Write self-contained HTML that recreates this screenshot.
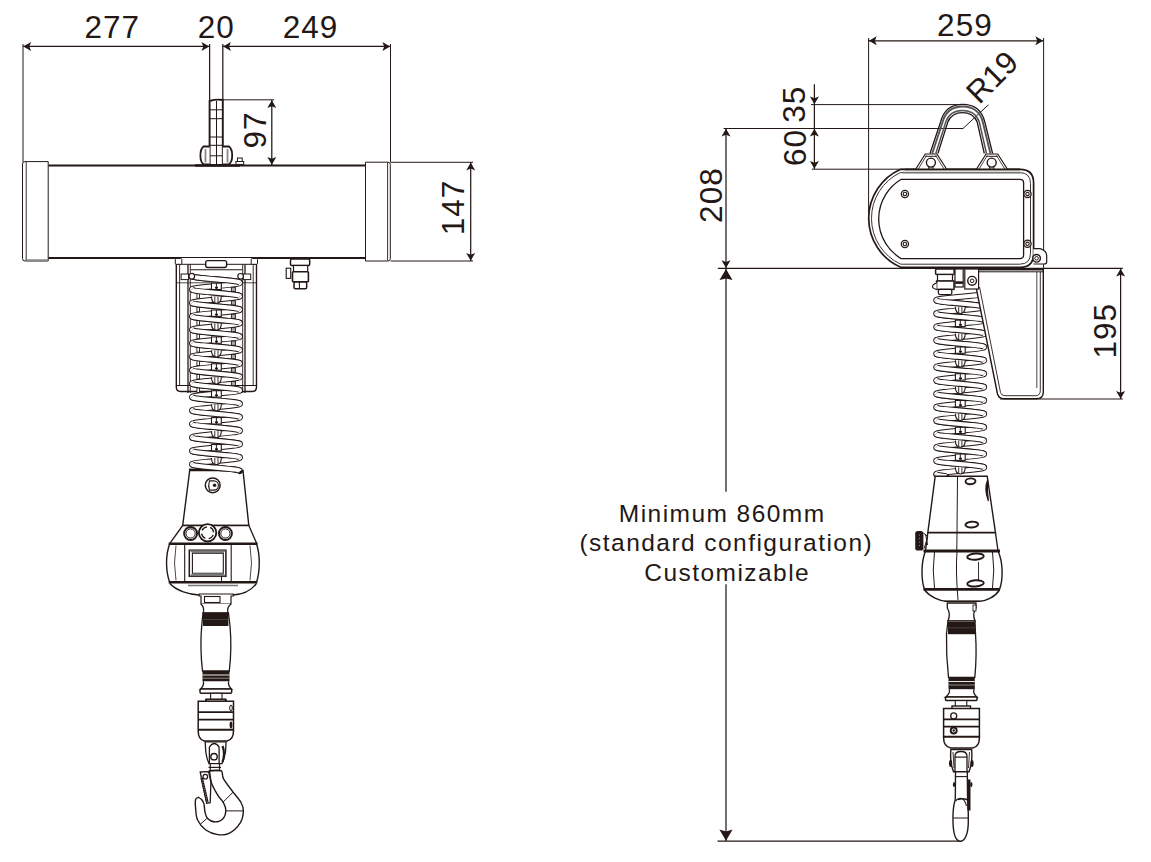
<!DOCTYPE html>
<html><head><meta charset="utf-8"><style>
html,body{margin:0;padding:0;background:#fff;width:1151px;height:862px;overflow:hidden}
svg{display:block}
text{font-family:"Liberation Sans",sans-serif;fill:#231815}
</style></head><body>
<svg width="1151" height="862" viewBox="0 0 1151 862">
<line x1="23.00" y1="46.40" x2="209.60" y2="46.40" stroke="#231815" stroke-width="1.15" />
<line x1="222.80" y1="46.40" x2="390.50" y2="46.40" stroke="#231815" stroke-width="1.15" />
<path d="M23.30 46.40 L31.10 41.90 L29.30 46.40 L31.10 50.90 Z" fill="#231815"/>
<path d="M209.30 46.40 L201.50 41.90 L203.30 46.40 L201.50 50.90 Z" fill="#231815"/>
<path d="M223.10 46.40 L230.90 41.90 L229.10 46.40 L230.90 50.90 Z" fill="#231815"/>
<path d="M390.20 46.40 L382.40 41.90 L384.20 46.40 L382.40 50.90 Z" fill="#231815"/>
<text x="112.30" y="38.30" font-size="31.50" text-anchor="middle" letter-spacing="1">277</text>
<text x="216.20" y="38.30" font-size="31.50" text-anchor="middle" letter-spacing="1">20</text>
<text x="310.50" y="38.30" font-size="31.50" text-anchor="middle" letter-spacing="1">249</text>
<line x1="23.00" y1="44.00" x2="23.00" y2="162.00" stroke="#231815" stroke-width="1.00" />
<line x1="390.50" y1="44.00" x2="390.50" y2="162.00" stroke="#231815" stroke-width="1.00" />
<line x1="209.60" y1="44.00" x2="209.60" y2="100.00" stroke="#231815" stroke-width="1.25" />
<line x1="222.80" y1="44.00" x2="222.80" y2="100.00" stroke="#231815" stroke-width="1.25" />
<line x1="222.80" y1="99.80" x2="274.00" y2="99.80" stroke="#231815" stroke-width="1.00" />
<line x1="271.80" y1="100.00" x2="271.80" y2="165.00" stroke="#231815" stroke-width="1.25" />
<path d="M271.80 100.20 L267.30 108.00 L271.80 106.20 L276.30 108.00 Z" fill="#231815"/>
<path d="M271.80 164.80 L267.30 157.00 L271.80 158.80 L276.30 157.00 Z" fill="#231815"/>
<text x="266.00" y="130.00" font-size="31.50" text-anchor="middle" letter-spacing="1" transform="rotate(-90 266.00 130.00)">97</text>
<line x1="390.50" y1="162.30" x2="473.00" y2="162.30" stroke="#231815" stroke-width="1.00" />
<line x1="390.50" y1="261.00" x2="473.00" y2="261.00" stroke="#231815" stroke-width="1.00" />
<line x1="470.70" y1="162.50" x2="470.70" y2="261.00" stroke="#231815" stroke-width="1.25" />
<path d="M470.70 162.60 L466.20 170.40 L470.70 168.60 L475.20 170.40 Z" fill="#231815"/>
<path d="M470.70 260.70 L466.20 252.90 L470.70 254.70 L475.20 252.90 Z" fill="#231815"/>
<text x="464.20" y="207.50" font-size="31.50" text-anchor="middle" letter-spacing="1" transform="rotate(-90 464.20 207.50)">147</text>
<line x1="868.60" y1="40.80" x2="1043.50" y2="40.80" stroke="#231815" stroke-width="1.15" />
<path d="M868.90 40.80 L876.70 36.30 L874.90 40.80 L876.70 45.30 Z" fill="#231815"/>
<path d="M1043.20 40.80 L1035.40 36.30 L1037.20 40.80 L1035.40 45.30 Z" fill="#231815"/>
<text x="964.90" y="36.30" font-size="31.50" text-anchor="middle" letter-spacing="1">259</text>
<line x1="868.60" y1="38.00" x2="868.60" y2="216.00" stroke="#231815" stroke-width="1.00" />
<line x1="1043.60" y1="38.00" x2="1043.60" y2="268.00" stroke="#231815" stroke-width="1.00" />
<line x1="814.40" y1="84.30" x2="814.40" y2="169.00" stroke="#231815" stroke-width="1.25" />
<path d="M814.40 104.30 L809.90 96.50 L814.40 98.30 L818.90 96.50 Z" fill="#231815"/>
<path d="M814.40 128.80 L809.90 136.60 L814.40 134.80 L818.90 136.60 Z" fill="#231815"/>
<path d="M814.40 168.70 L809.90 160.90 L814.40 162.70 L818.90 160.90 Z" fill="#231815"/>
<line x1="811.00" y1="104.60" x2="962.00" y2="104.60" stroke="#231815" stroke-width="1.00" />
<line x1="723.60" y1="128.50" x2="963.00" y2="128.50" stroke="#231815" stroke-width="1.00" />
<line x1="811.80" y1="169.20" x2="905.00" y2="169.20" stroke="#231815" stroke-width="1.00" />
<text x="805.20" y="104.20" font-size="31.50" text-anchor="middle" letter-spacing="1" transform="rotate(-90 805.20 104.20)">35</text>
<text x="806.00" y="147.50" font-size="31.50" text-anchor="middle" letter-spacing="1" transform="rotate(-90 806.00 147.50)">60</text>
<line x1="726.00" y1="128.50" x2="726.00" y2="268.30" stroke="#231815" stroke-width="1.25" />
<path d="M726.00 128.80 L721.50 136.60 L726.00 134.80 L730.50 136.60 Z" fill="#231815"/>
<path d="M726.00 268.00 L721.50 260.20 L726.00 262.00 L730.50 260.20 Z" fill="#231815"/>
<text x="722.50" y="195.10" font-size="31.50" text-anchor="middle" letter-spacing="1" transform="rotate(-90 722.50 195.10)">208</text>
<line x1="717.80" y1="268.40" x2="1122.80" y2="268.40" stroke="#231815" stroke-width="1.25" />
<line x1="726.00" y1="268.60" x2="726.00" y2="491.70" stroke="#231815" stroke-width="1.25" />
<line x1="726.00" y1="584.20" x2="726.00" y2="841.00" stroke="#231815" stroke-width="1.25" />
<path d="M726.00 268.90 L719.50 280.10 L726.00 278.50 L732.50 280.10 Z" fill="#231815"/>
<path d="M726.00 840.80 L719.40 829.50 L726.00 831.50 L732.60 829.50 Z" fill="#231815"/>
<line x1="717.50" y1="841.00" x2="962.00" y2="841.00" stroke="#231815" stroke-width="1.25" />
<line x1="1120.60" y1="268.60" x2="1120.60" y2="399.00" stroke="#231815" stroke-width="1.25" />
<path d="M1120.60 268.80 L1116.10 276.60 L1120.60 274.80 L1125.10 276.60 Z" fill="#231815"/>
<path d="M1120.60 398.70 L1116.10 390.90 L1120.60 392.70 L1125.10 390.90 Z" fill="#231815"/>
<line x1="1000.00" y1="399.00" x2="1122.80" y2="399.00" stroke="#231815" stroke-width="1.00" />
<text x="1115.70" y="330.70" font-size="31.50" text-anchor="middle" letter-spacing="1" transform="rotate(-90 1115.70 330.70)">195</text>
<line x1="988.40" y1="104.80" x2="962.80" y2="128.70" stroke="#231815" stroke-width="1.00" />
<text x="979.20" y="105.30" font-size="31.50" text-anchor="start" letter-spacing="0" transform="rotate(-45 979.20 105.30)">R19</text>
<text x="722.20" y="521.50" font-size="24.50" text-anchor="middle" letter-spacing="1.45">Minimum 860mm</text>
<text x="726.30" y="551.30" font-size="24.50" text-anchor="middle" letter-spacing="1.45">(standard configuration)</text>
<text x="727.20" y="580.60" font-size="24.50" text-anchor="middle" letter-spacing="1.45">Customizable</text>
<path d="M48.2 165.5 L365.5 165.5" fill="none" stroke="#231815" stroke-width="2.20" />
<path d="M48.2 258 L365.5 258" fill="none" stroke="#231815" stroke-width="2.20" />
<path d="M25 161.6 L48.2 161.6 L48.2 261 L25 261 Q22.5 261 22.5 258.5 L22.5 164 Q22.5 161.6 25 161.6 Z" fill="#fff" stroke="#231815" stroke-width="1.00" />
<line x1="26.20" y1="162.00" x2="26.20" y2="260.50" stroke="#231815" stroke-width="0.90" />
<line x1="48.20" y1="260.00" x2="25.00" y2="260.00" stroke="#888" stroke-width="1.50" />
<path d="M365.5 162.2 L388 162.2 Q390.3 162.2 390.3 164.5 L390.3 258.7 Q390.3 261 388 261 L365.5 261 Z" fill="#fff" stroke="#231815" stroke-width="1.00" />
<line x1="387.60" y1="162.50" x2="387.60" y2="260.50" stroke="#231815" stroke-width="0.90" />
<path d="M209.6 101 Q216 99 222.8 100 L222.8 165 L209.6 165 Z" fill="#fff" stroke="#231815" stroke-width="1.90" />
<line x1="216.50" y1="101.00" x2="216.50" y2="165.00" stroke="#231815" stroke-width="1.00" />
<line x1="209.60" y1="109.80" x2="222.80" y2="109.80" stroke="#231815" stroke-width="1.00" />
<line x1="209.60" y1="118.70" x2="222.80" y2="118.70" stroke="#231815" stroke-width="1.00" />
<line x1="209.60" y1="137.00" x2="222.80" y2="137.00" stroke="#231815" stroke-width="1.00" />
<line x1="209.60" y1="145.30" x2="222.80" y2="145.30" stroke="#231815" stroke-width="1.00" />
<line x1="209.60" y1="155.80" x2="222.80" y2="155.80" stroke="#231815" stroke-width="1.00" />
<path d="M209.6 146.5 L203.5 146.5 Q200.4 149 200.4 155.5 Q200.4 162 203.5 164.3 L209.6 164.3" fill="#fff" stroke="#231815" stroke-width="1.80" />
<path d="M222.8 146.5 L229 146.5 Q232.2 149 232.2 155.5 Q232.2 162 229 164.3 L222.8 164.3" fill="#fff" stroke="#231815" stroke-width="1.80" />
<line x1="205.50" y1="149.00" x2="205.50" y2="162.50" stroke="#888" stroke-width="1.80" />
<line x1="227.50" y1="149.00" x2="227.50" y2="162.50" stroke="#888" stroke-width="1.80" />
<line x1="195.00" y1="165.50" x2="240.00" y2="165.50" stroke="#231815" stroke-width="2.40" />
<rect x="237.50" y="158.00" width="4.70" height="3.50" rx="0.00" fill="#fff" stroke="#231815" stroke-width="1.00"/>
<rect x="235.90" y="161.50" width="7.80" height="2.90" rx="0.00" fill="#fff" stroke="#231815" stroke-width="1.00"/>
<rect x="290.50" y="259.00" width="19.20" height="6.50" rx="1.20" fill="#fff" stroke="#231815" stroke-width="1.50"/>
<rect x="293.50" y="265.50" width="14.20" height="6.20" rx="0.00" fill="#fff" stroke="#231815" stroke-width="1.20"/>
<rect x="292.50" y="271.70" width="15.90" height="10.00" rx="0.80" fill="#fff" stroke="#231815" stroke-width="1.60"/>
<rect x="286.20" y="268.20" width="4.50" height="10.20" rx="0.00" fill="#fff" stroke="#231815" stroke-width="1.10"/>
<rect x="294.00" y="282.00" width="12.70" height="6.70" rx="1.50" fill="#fff" stroke="#231815" stroke-width="1.50"/>
<line x1="299.40" y1="282.00" x2="299.40" y2="288.70" stroke="#231815" stroke-width="1.10" />
<path d="M176.3 258 L176.3 387 Q176.3 391.5 180.5 391.5 L252.3 391.5 Q256.5 391.5 256.5 387 L256.5 258" fill="#fff" stroke="#231815" stroke-width="1.40" />
<line x1="179.60" y1="264.00" x2="179.60" y2="385.50" stroke="#231815" stroke-width="0.90" />
<line x1="253.20" y1="264.00" x2="253.20" y2="385.50" stroke="#231815" stroke-width="0.90" />
<line x1="176.30" y1="385.50" x2="256.50" y2="385.50" stroke="#231815" stroke-width="1.00" />
<line x1="176.30" y1="264.30" x2="256.50" y2="264.30" stroke="#231815" stroke-width="1.00" />
<line x1="176.30" y1="282.80" x2="256.50" y2="282.80" stroke="#231815" stroke-width="0.80" />
<rect x="175.30" y="258.50" width="6.50" height="5.80" rx="1.00" fill="#fff" stroke="#231815" stroke-width="1.00"/>
<rect x="251.20" y="258.50" width="6.30" height="5.80" rx="1.00" fill="#fff" stroke="#231815" stroke-width="1.00"/>
<line x1="188.00" y1="264.30" x2="188.00" y2="393.00" stroke="#231815" stroke-width="1.30" />
<line x1="190.30" y1="264.30" x2="190.30" y2="393.00" stroke="#231815" stroke-width="0.90" />
<line x1="242.70" y1="264.30" x2="242.70" y2="393.00" stroke="#231815" stroke-width="0.90" />
<line x1="245.00" y1="264.30" x2="245.00" y2="393.00" stroke="#231815" stroke-width="1.30" />
<rect x="205.70" y="260.60" width="20.90" height="6.90" rx="2.00" fill="#fff" stroke="#231815" stroke-width="1.40"/>
<line x1="190.40" y1="269.80" x2="242.40" y2="269.80" stroke="#231815" stroke-width="1.10" />
<rect x="181.10" y="274.00" width="7.50" height="5.60" rx="0.00" fill="#fff" stroke="#231815" stroke-width="1.00"/>
<rect x="243.30" y="274.00" width="7.40" height="5.60" rx="0.00" fill="#fff" stroke="#231815" stroke-width="1.00"/>
<path d="M189.7 470.5 L243 470.5 L248.8 525.5 L182.7 525.5 Z" fill="#fff" stroke="#231815" stroke-width="1.40" />
<line x1="189.00" y1="469.30" x2="203.50" y2="469.80" stroke="#231815" stroke-width="1.50" />
<path d="M192.00 276.00 L192.15 276.24 L192.60 276.48 L193.34 276.72 L194.37 276.96 L195.67 277.20 L197.22 277.44 L199.01 277.68 L201.02 277.92 L203.21 278.16 L205.56 278.40 L208.04 278.64 L210.62 278.88 L213.27 279.12 L215.95 279.36 L218.64 279.60 L221.29 279.84 L223.87 280.08 L226.36 280.32 L228.72 280.56 L230.91 280.80 L232.92 281.04 L234.72 281.28 L236.28 281.52 L237.59 281.76 L238.63 282.00 L239.38 282.24 L239.84 282.48 L240.00 282.72 L239.86 282.96 L239.42 283.20 L238.69 283.44 L237.67 283.68 L236.38 283.92 L234.83 284.16 L233.05 284.40 L231.06 284.64 L228.87 284.88 L226.53 285.12 L224.05 285.36 L221.47 285.60 L218.82 285.84 L216.14 286.08 L213.45 286.31 L210.80 286.55 L208.21 286.79 L205.72 287.03 L203.36 287.27 L201.16 287.51 L199.14 287.75 L197.34 287.99 L195.77 288.23 L194.45 288.47 L193.41 288.71 L192.64 288.95 L192.17 289.19 L192.00 289.43 L192.13 289.67 L192.56 289.91 L193.28 290.15 L194.29 290.39 L195.57 290.63 L197.11 290.87 L198.88 291.11 L200.87 291.35 L203.05 291.59 L205.39 291.83 L207.86 292.07 L210.44 292.31 L213.09 292.55 L215.77 292.79 L218.45 293.03 L221.11 293.27 L223.70 293.51 L226.19 293.75 L228.56 293.99 L230.77 294.23 L232.79 294.47 L234.60 294.71 L236.18 294.95 L237.51 295.19 L238.56 295.43 L239.34 295.67 L239.82 295.91 L240.00 296.15 L239.88 296.39 L239.46 296.63 L238.75 296.87 L237.75 297.11 L236.48 297.35 L234.95 297.59 L233.18 297.83 L231.20 298.07 L229.03 298.31 L226.69 298.55 L224.22 298.79 L221.65 299.03 L219.01 299.27 L216.32 299.51 L213.64 299.75 L210.98 299.99 L208.39 300.23 L205.89 300.47 L203.52 300.71 L201.31 300.95 L199.28 301.19 L197.46 301.43 L195.87 301.67 L194.53 301.91 L193.47 302.15 L192.69 302.39 L192.19 302.63 L192.00 302.87 L192.11 303.11 L192.52 303.35 L193.22 303.59 L194.21 303.83 L195.48 304.07 L196.99 304.31 L198.75 304.55 L200.73 304.79 L202.89 305.03 L205.22 305.27 L207.69 305.51 L210.26 305.75 L212.90 305.99 L215.58 306.23 L218.27 306.47 L220.93 306.71 L223.52 306.94 L226.02 307.18 L228.40 307.42 L230.62 307.66 L232.66 307.90 L234.48 308.14 L236.08 308.38 L237.42 308.62 L238.50 308.86 L239.29 309.10 L239.79 309.34 L240.00 309.58 L239.90 309.82 L239.50 310.06 L238.81 310.30 L237.83 310.54 L236.57 310.78 L235.06 311.02 L233.31 311.26 L231.34 311.50 L229.18 311.74 L226.86 311.98 L224.40 312.22 L221.83 312.46 L219.19 312.70 L216.51 312.94 L213.82 313.18 L211.16 313.42 L208.57 313.66 L206.06 313.90 L203.68 314.14 L201.45 314.38 L199.41 314.62 L197.58 314.86 L195.97 315.10 L194.62 315.34 L193.53 315.58 L192.73 315.82 L192.22 316.06 L192.01 316.30 L192.09 316.54 L192.48 316.78 L193.17 317.02 L194.14 317.26 L195.38 317.50 L196.88 317.74 L198.62 317.98 L200.58 318.22 L202.74 318.46 L205.06 318.70 L207.52 318.94 L210.08 319.18 L212.72 319.42 L215.40 319.66 L218.08 319.90 L220.74 320.14 L223.35 320.38 L225.85 320.62 L228.24 320.86 L230.47 321.10 L232.52 321.34 L234.37 321.58 L235.98 321.82 L237.34 322.06 L238.43 322.30 L239.25 322.54 L239.77 322.78 L239.99 323.02 L239.91 323.26 L239.54 323.50 L238.86 323.74 L237.90 323.98 L236.67 324.22 L235.17 324.46 L233.44 324.70 L231.49 324.94 L229.34 325.18 L227.02 325.42 L224.57 325.66 L222.01 325.90 L219.37 326.14 L216.70 326.38 L214.01 326.62 L211.35 326.86 L208.74 327.10 L206.23 327.33 L203.84 327.57 L201.60 327.81 L199.55 328.05 L197.69 328.29 L196.07 328.53 L194.70 328.77 L193.60 329.01 L192.78 329.25 L192.24 329.49 L192.01 329.73 L192.08 329.97 L192.45 330.21 L193.11 330.45 L194.06 330.69 L195.29 330.93 L196.77 331.17 L198.50 331.41 L200.44 331.65 L202.58 331.89 L204.89 332.13 L207.34 332.37 L209.90 332.61 L212.53 332.85 L215.21 333.09 L217.90 333.33 L220.56 333.57 L223.17 333.81 L225.69 334.05 L228.08 334.29 L230.32 334.53 L232.39 334.77 L234.25 335.01 L235.87 335.25 L237.25 335.49 L238.37 335.73 L239.20 335.97 L239.74 336.21 L239.99 336.45 L239.93 336.69 L239.57 336.93 L238.92 337.17 L237.98 337.41 L236.76 337.65 L235.28 337.89 L233.57 338.13 L231.63 338.37 L229.49 338.61 L227.19 338.85 L224.74 339.09 L222.19 339.33 L219.56 339.57 L216.88 339.81 L214.19 340.05 L211.53 340.29 L208.92 340.53 L206.40 340.77 L204.00 341.01 L201.75 341.25 L199.68 341.49 L197.82 341.73 L196.18 341.97 L194.79 342.21 L193.67 342.45 L192.82 342.69 L192.27 342.93 L192.02 343.17 L192.06 343.41 L192.41 343.65 L193.05 343.89 L193.99 344.13 L195.19 344.37 L196.66 344.61 L198.37 344.85 L200.30 345.09 L202.43 345.33 L204.73 345.57 L207.17 345.81 L209.72 346.05 L212.35 346.29 L215.03 346.53 L217.71 346.77 L220.38 347.01 L222.99 347.25 L225.52 347.49 L227.92 347.73 L230.17 347.96 L232.25 348.20 L234.12 348.44 L235.77 348.68 L237.17 348.92 L238.30 349.16 L239.15 349.40 L239.71 349.64 L239.98 349.88 L239.94 350.12 L239.61 350.36 L238.97 350.60 L238.05 350.84 L236.85 351.08 L235.39 351.32 L233.69 351.56 L231.77 351.80 L229.65 352.04 L227.35 352.28 L224.92 352.52 L222.37 352.76 L219.74 353.00 L217.07 353.24 L214.38 353.48 L211.71 353.72 L209.10 353.96 L206.57 354.20 L204.16 354.44 L201.90 354.68 L199.82 354.92 L197.94 355.16 L196.28 355.40 L194.88 355.64 L193.73 355.88 L192.87 356.12 L192.30 356.36 L192.03 356.60 L192.05 356.84 L192.38 357.08 L193.00 357.32 L193.91 357.56 L195.10 357.80 L196.55 358.04 L198.25 358.28 L200.16 358.52 L202.28 358.76 L204.57 359.00 L207.00 359.24 L209.54 359.48 L212.17 359.72 L214.84 359.96 L217.53 360.20 L220.20 360.44 L222.81 360.68 L225.34 360.92 L227.76 361.16 L230.02 361.40 L232.11 361.64 L234.00 361.88 L235.66 362.12 L237.08 362.36 L238.23 362.60 L239.10 362.84 L239.68 363.08 L239.97 363.32 L239.95 363.56 L239.64 363.80 L239.03 364.04 L238.12 364.28 L236.95 364.52 L235.50 364.76 L233.82 365.00 L231.91 365.24 L229.80 365.48 L227.51 365.72 L225.09 365.96 L222.55 366.20 L219.92 366.44 L217.25 366.68 L214.56 366.92 L211.89 367.16 L209.27 367.40 L206.74 367.64 L204.32 367.88 L202.05 368.12 L199.95 368.36 L198.06 368.59 L196.39 368.83 L194.97 369.07 L193.80 369.31 L192.92 369.55 L192.33 369.79 L192.04 370.03 L192.04 370.27 L192.35 370.51 L192.95 370.75 L193.84 370.99 L195.01 371.23 L196.44 371.47 L198.12 371.71 L200.02 371.95 L202.13 372.19 L204.40 372.43 L206.83 372.67 L209.36 372.91 L211.98 373.15 L214.66 373.39 L217.34 373.63 L220.02 373.87 L222.64 374.11 L225.17 374.35 L227.60 374.59 L229.87 374.83 L231.98 375.07 L233.88 375.31 L235.56 375.55 L236.99 375.79 L238.16 376.03 L239.05 376.27 L239.65 376.51 L239.96 376.75 L239.96 376.99 L239.67 377.23 L239.08 377.47 L238.20 377.71 L237.03 377.95 L235.61 378.19 L233.94 378.43 L232.05 378.67 L229.95 378.91 L227.68 379.15 L225.26 379.39 L222.73 379.63 L220.11 379.87 L217.44 380.11 L214.75 380.35 L212.08 380.59 L209.45 380.83 L206.91 381.07 L204.49 381.31 L202.20 381.55 L200.09 381.79 L198.18 382.03 L196.50 382.27 L195.05 382.51 L193.88 382.75 L192.97 382.99 L192.36 383.23 L192.05 383.47 L192.03 383.71 L192.32 383.95 L192.90 384.19 L193.77 384.43 L194.92 384.67 L196.34 384.91 L198.00 385.15 L199.89 385.39 L201.98 385.63 L204.24 385.87 L206.66 386.11 L209.19 386.35 L211.80 386.59 L214.47 386.83 L217.16 387.07 L219.83 387.31 L222.46 387.55 L225.00 387.79 L227.43 388.03 L229.72 388.27 L231.84 388.51 L233.75 388.75 L235.45 388.98 L236.90 389.22 L238.09 389.46 L239.00 389.70 L239.62 389.94 L239.95 390.18 L239.97 390.42 L239.70 390.66 L239.13 390.90 L238.27 391.14 L237.12 391.38 L235.72 391.62 L234.06 391.86 L232.18 392.10 L230.10 392.34 L227.84 392.58 L225.43 392.82 L222.90 393.06 L220.29 393.30 L217.62 393.54 L214.93 393.78 L212.26 394.02 L209.63 394.26 L207.08 394.50 L204.65 394.74 L202.35 394.98 L200.23 395.22 L198.31 395.46 L196.61 395.70 L195.15 395.94 L193.95 396.18 L193.03 396.42 L192.39 396.66 L192.06 396.90 L192.02 397.14 L192.29 397.38 L192.85 397.62 L193.70 397.86 L194.83 398.10 L196.23 398.34 L197.88 398.58 L199.75 398.82 L201.83 399.06 L204.08 399.30 L206.48 399.54 L209.01 399.78 L211.62 400.02 L214.29 400.26 L216.97 400.50 L219.65 400.74 L222.28 400.98 L224.83 401.22 L227.27 401.46 L229.57 401.70 L231.70 401.94 L233.63 402.18 L235.34 402.42 L236.81 402.66 L238.01 402.90 L238.95 403.14 L239.59 403.38 L239.94 403.62 L239.98 403.86 L239.73 404.10 L239.18 404.34 L238.33 404.58 L237.21 404.82 L235.82 405.06 L234.18 405.30 L232.32 405.54 L230.25 405.78 L228.00 406.02 L225.60 406.26 L223.08 406.50 L220.47 406.74 L217.81 406.98 L215.12 407.22 L212.44 407.46 L209.81 407.70 L207.26 407.94 L204.81 408.18 L202.51 408.42 L200.37 408.66 L198.43 408.90 L196.72 409.14 L195.24 409.38 L194.02 409.61 L193.08 409.85 L192.43 410.09 L192.07 410.33 L192.01 410.57 L192.26 410.81 L192.80 411.05 L193.63 411.29 L194.75 411.53 L196.13 411.77 L197.75 412.01 L199.61 412.25 L201.68 412.49 L203.92 412.73 L206.31 412.97 L208.83 413.21 L211.44 413.45 L214.10 413.69 L216.79 413.93 L219.47 414.17 L222.10 414.41 L224.66 414.65 L227.11 414.89 L229.42 415.13 L231.56 415.37 L233.50 415.61 L235.23 415.85 L236.71 416.09 L237.94 416.33 L238.89 416.57 L239.55 416.81 L239.92 417.05 L239.99 417.29 L239.76 417.53 L239.22 417.77 L238.40 418.01 L237.30 418.25 L235.93 418.49 L234.31 418.73 L232.45 418.97 L230.40 419.21 L228.16 419.45 L225.77 419.69 L223.26 419.93 L220.65 420.17 L217.99 420.41 L215.30 420.65 L212.63 420.89 L209.99 421.13 L207.43 421.37 L204.98 421.61 L202.66 421.85 L200.51 422.09 L198.56 422.33 L196.83 422.57 L195.33 422.81 L194.10 423.05 L193.14 423.29 L192.46 423.53 L192.09 423.77 L192.01 424.01 L192.23 424.25 L192.75 424.49 L193.57 424.73 L194.66 424.97 L196.02 425.21 L197.63 425.45 L199.48 425.69 L201.53 425.93 L203.76 426.17 L206.15 426.41 L208.65 426.65 L211.26 426.89 L213.92 427.13 L216.60 427.37 L219.28 427.61 L221.92 427.85 L224.48 428.09 L226.94 428.33 L229.26 428.57 L231.42 428.81 L233.38 429.05 L235.12 429.29 L236.62 429.53 L237.86 429.77 L238.83 430.00 L239.52 430.24 L239.91 430.48 L239.99 430.72 L239.78 430.96 L239.27 431.20 L238.47 431.44 L237.38 431.68 L236.03 431.92 L234.42 432.16 L232.59 432.40 L230.55 432.64 L228.32 432.88 L225.94 433.12 L223.43 433.36 L220.84 433.60 L218.18 433.84 L215.49 434.08 L212.81 434.32 L210.17 434.56 L207.60 434.80 L205.14 435.04 L202.82 435.28 L200.66 435.52 L198.69 435.76 L196.94 436.00 L195.43 436.24 L194.17 436.48 L193.19 436.72 L192.50 436.96 L192.10 437.20 L192.00 437.44 L192.21 437.68 L192.71 437.92 L193.50 438.16 L194.58 438.40 L195.92 438.64 L197.52 438.88 L199.34 439.12 L201.38 439.36 L203.60 439.60 L205.98 439.84 L208.48 440.08 L211.07 440.32 L213.73 440.56 L216.42 440.80 L219.10 441.04 L221.74 441.28 L224.31 441.52 L226.78 441.76 L229.11 442.00 L231.27 442.24 L233.25 442.48 L235.01 442.72 L236.52 442.96 L237.79 443.20 L238.78 443.44 L239.48 443.68 L239.89 443.92 L240.00 444.16 L239.81 444.40 L239.31 444.64 L238.53 444.88 L237.47 445.12 L236.13 445.36 L234.54 445.60 L232.72 445.84 L230.69 446.08 L228.48 446.32 L226.11 446.56 L223.61 446.80 L221.02 447.04 L218.36 447.28 L215.68 447.52 L212.99 447.76 L210.35 448.00 L207.78 448.24 L205.31 448.48 L202.97 448.72 L200.80 448.96 L198.82 449.20 L197.05 449.44 L195.52 449.68 L194.25 449.92 L193.25 450.16 L192.54 450.40 L192.12 450.63 L192.00 450.87 L192.18 451.11 L192.66 451.35 L193.44 451.59 L194.49 451.83 L195.82 452.07 L197.40 452.31 L199.21 452.55 L201.23 452.79 L203.44 453.03 L205.81 453.27 L208.30 453.51 L210.89 453.75 L213.55 453.99 L216.23 454.23 L218.91 454.47 L221.56 454.71 L224.14 454.95 L226.61 455.19 L228.95 455.43 L231.13 455.67 L233.12 455.91 L234.89 456.15 L236.43 456.39 L237.71 456.63 L238.72 456.87 L239.44 457.11 L239.87 457.35 L240.00 457.59 L239.83 457.83 L239.36 458.07 L238.59 458.31 L237.55 458.55 L236.23 458.79 L234.66 459.03 L232.86 459.27 L230.84 459.51 L228.64 459.75 L226.28 459.99 L223.79 460.23 L221.20 460.47 L218.55 460.71 L215.86 460.95 L213.18 461.19 L210.53 461.43 L207.95 461.67 L205.47 461.91 L203.13 462.15 L200.94 462.39 L198.95 462.63 L197.17 462.87 L195.62 463.11 L194.33 463.35 L193.31 463.59 L192.58 463.83 L192.14 464.07 L192.00 464.31 L192.16 464.55 L192.62 464.79 L193.37 465.03 L194.41 465.27 L195.72 465.51 L197.28 465.75 L199.08 465.99 L201.09 466.23 L203.28 466.47 L205.64 466.71 L208.13 466.95 L210.71 467.19 L213.36 467.43 L216.05 467.67 L218.73 467.91 L221.38 468.15 L223.96 468.39 L226.44 468.63 L228.79 468.87 L230.98 469.11 L232.99 469.35 L234.78 469.59 L236.33 469.83 L237.63 470.07 L238.66 470.31 L239.40 470.55 L239.85 470.79 L240.00 471.02" fill="none" stroke="#231815" stroke-width="6.00" stroke-linejoin="round" stroke-linecap="round"/>
<path d="M192.00 276.00 L192.15 276.24 L192.60 276.48 L193.34 276.72 L194.37 276.96 L195.67 277.20 L197.22 277.44 L199.01 277.68 L201.02 277.92 L203.21 278.16 L205.56 278.40 L208.04 278.64 L210.62 278.88 L213.27 279.12 L215.95 279.36 L218.64 279.60 L221.29 279.84 L223.87 280.08 L226.36 280.32 L228.72 280.56 L230.91 280.80 L232.92 281.04 L234.72 281.28 L236.28 281.52 L237.59 281.76 L238.63 282.00 L239.38 282.24 L239.84 282.48 L240.00 282.72 L239.86 282.96 L239.42 283.20 L238.69 283.44 L237.67 283.68 L236.38 283.92 L234.83 284.16 L233.05 284.40 L231.06 284.64 L228.87 284.88 L226.53 285.12 L224.05 285.36 L221.47 285.60 L218.82 285.84 L216.14 286.08 L213.45 286.31 L210.80 286.55 L208.21 286.79 L205.72 287.03 L203.36 287.27 L201.16 287.51 L199.14 287.75 L197.34 287.99 L195.77 288.23 L194.45 288.47 L193.41 288.71 L192.64 288.95 L192.17 289.19 L192.00 289.43 L192.13 289.67 L192.56 289.91 L193.28 290.15 L194.29 290.39 L195.57 290.63 L197.11 290.87 L198.88 291.11 L200.87 291.35 L203.05 291.59 L205.39 291.83 L207.86 292.07 L210.44 292.31 L213.09 292.55 L215.77 292.79 L218.45 293.03 L221.11 293.27 L223.70 293.51 L226.19 293.75 L228.56 293.99 L230.77 294.23 L232.79 294.47 L234.60 294.71 L236.18 294.95 L237.51 295.19 L238.56 295.43 L239.34 295.67 L239.82 295.91 L240.00 296.15 L239.88 296.39 L239.46 296.63 L238.75 296.87 L237.75 297.11 L236.48 297.35 L234.95 297.59 L233.18 297.83 L231.20 298.07 L229.03 298.31 L226.69 298.55 L224.22 298.79 L221.65 299.03 L219.01 299.27 L216.32 299.51 L213.64 299.75 L210.98 299.99 L208.39 300.23 L205.89 300.47 L203.52 300.71 L201.31 300.95 L199.28 301.19 L197.46 301.43 L195.87 301.67 L194.53 301.91 L193.47 302.15 L192.69 302.39 L192.19 302.63 L192.00 302.87 L192.11 303.11 L192.52 303.35 L193.22 303.59 L194.21 303.83 L195.48 304.07 L196.99 304.31 L198.75 304.55 L200.73 304.79 L202.89 305.03 L205.22 305.27 L207.69 305.51 L210.26 305.75 L212.90 305.99 L215.58 306.23 L218.27 306.47 L220.93 306.71 L223.52 306.94 L226.02 307.18 L228.40 307.42 L230.62 307.66 L232.66 307.90 L234.48 308.14 L236.08 308.38 L237.42 308.62 L238.50 308.86 L239.29 309.10 L239.79 309.34 L240.00 309.58 L239.90 309.82 L239.50 310.06 L238.81 310.30 L237.83 310.54 L236.57 310.78 L235.06 311.02 L233.31 311.26 L231.34 311.50 L229.18 311.74 L226.86 311.98 L224.40 312.22 L221.83 312.46 L219.19 312.70 L216.51 312.94 L213.82 313.18 L211.16 313.42 L208.57 313.66 L206.06 313.90 L203.68 314.14 L201.45 314.38 L199.41 314.62 L197.58 314.86 L195.97 315.10 L194.62 315.34 L193.53 315.58 L192.73 315.82 L192.22 316.06 L192.01 316.30 L192.09 316.54 L192.48 316.78 L193.17 317.02 L194.14 317.26 L195.38 317.50 L196.88 317.74 L198.62 317.98 L200.58 318.22 L202.74 318.46 L205.06 318.70 L207.52 318.94 L210.08 319.18 L212.72 319.42 L215.40 319.66 L218.08 319.90 L220.74 320.14 L223.35 320.38 L225.85 320.62 L228.24 320.86 L230.47 321.10 L232.52 321.34 L234.37 321.58 L235.98 321.82 L237.34 322.06 L238.43 322.30 L239.25 322.54 L239.77 322.78 L239.99 323.02 L239.91 323.26 L239.54 323.50 L238.86 323.74 L237.90 323.98 L236.67 324.22 L235.17 324.46 L233.44 324.70 L231.49 324.94 L229.34 325.18 L227.02 325.42 L224.57 325.66 L222.01 325.90 L219.37 326.14 L216.70 326.38 L214.01 326.62 L211.35 326.86 L208.74 327.10 L206.23 327.33 L203.84 327.57 L201.60 327.81 L199.55 328.05 L197.69 328.29 L196.07 328.53 L194.70 328.77 L193.60 329.01 L192.78 329.25 L192.24 329.49 L192.01 329.73 L192.08 329.97 L192.45 330.21 L193.11 330.45 L194.06 330.69 L195.29 330.93 L196.77 331.17 L198.50 331.41 L200.44 331.65 L202.58 331.89 L204.89 332.13 L207.34 332.37 L209.90 332.61 L212.53 332.85 L215.21 333.09 L217.90 333.33 L220.56 333.57 L223.17 333.81 L225.69 334.05 L228.08 334.29 L230.32 334.53 L232.39 334.77 L234.25 335.01 L235.87 335.25 L237.25 335.49 L238.37 335.73 L239.20 335.97 L239.74 336.21 L239.99 336.45 L239.93 336.69 L239.57 336.93 L238.92 337.17 L237.98 337.41 L236.76 337.65 L235.28 337.89 L233.57 338.13 L231.63 338.37 L229.49 338.61 L227.19 338.85 L224.74 339.09 L222.19 339.33 L219.56 339.57 L216.88 339.81 L214.19 340.05 L211.53 340.29 L208.92 340.53 L206.40 340.77 L204.00 341.01 L201.75 341.25 L199.68 341.49 L197.82 341.73 L196.18 341.97 L194.79 342.21 L193.67 342.45 L192.82 342.69 L192.27 342.93 L192.02 343.17 L192.06 343.41 L192.41 343.65 L193.05 343.89 L193.99 344.13 L195.19 344.37 L196.66 344.61 L198.37 344.85 L200.30 345.09 L202.43 345.33 L204.73 345.57 L207.17 345.81 L209.72 346.05 L212.35 346.29 L215.03 346.53 L217.71 346.77 L220.38 347.01 L222.99 347.25 L225.52 347.49 L227.92 347.73 L230.17 347.96 L232.25 348.20 L234.12 348.44 L235.77 348.68 L237.17 348.92 L238.30 349.16 L239.15 349.40 L239.71 349.64 L239.98 349.88 L239.94 350.12 L239.61 350.36 L238.97 350.60 L238.05 350.84 L236.85 351.08 L235.39 351.32 L233.69 351.56 L231.77 351.80 L229.65 352.04 L227.35 352.28 L224.92 352.52 L222.37 352.76 L219.74 353.00 L217.07 353.24 L214.38 353.48 L211.71 353.72 L209.10 353.96 L206.57 354.20 L204.16 354.44 L201.90 354.68 L199.82 354.92 L197.94 355.16 L196.28 355.40 L194.88 355.64 L193.73 355.88 L192.87 356.12 L192.30 356.36 L192.03 356.60 L192.05 356.84 L192.38 357.08 L193.00 357.32 L193.91 357.56 L195.10 357.80 L196.55 358.04 L198.25 358.28 L200.16 358.52 L202.28 358.76 L204.57 359.00 L207.00 359.24 L209.54 359.48 L212.17 359.72 L214.84 359.96 L217.53 360.20 L220.20 360.44 L222.81 360.68 L225.34 360.92 L227.76 361.16 L230.02 361.40 L232.11 361.64 L234.00 361.88 L235.66 362.12 L237.08 362.36 L238.23 362.60 L239.10 362.84 L239.68 363.08 L239.97 363.32 L239.95 363.56 L239.64 363.80 L239.03 364.04 L238.12 364.28 L236.95 364.52 L235.50 364.76 L233.82 365.00 L231.91 365.24 L229.80 365.48 L227.51 365.72 L225.09 365.96 L222.55 366.20 L219.92 366.44 L217.25 366.68 L214.56 366.92 L211.89 367.16 L209.27 367.40 L206.74 367.64 L204.32 367.88 L202.05 368.12 L199.95 368.36 L198.06 368.59 L196.39 368.83 L194.97 369.07 L193.80 369.31 L192.92 369.55 L192.33 369.79 L192.04 370.03 L192.04 370.27 L192.35 370.51 L192.95 370.75 L193.84 370.99 L195.01 371.23 L196.44 371.47 L198.12 371.71 L200.02 371.95 L202.13 372.19 L204.40 372.43 L206.83 372.67 L209.36 372.91 L211.98 373.15 L214.66 373.39 L217.34 373.63 L220.02 373.87 L222.64 374.11 L225.17 374.35 L227.60 374.59 L229.87 374.83 L231.98 375.07 L233.88 375.31 L235.56 375.55 L236.99 375.79 L238.16 376.03 L239.05 376.27 L239.65 376.51 L239.96 376.75 L239.96 376.99 L239.67 377.23 L239.08 377.47 L238.20 377.71 L237.03 377.95 L235.61 378.19 L233.94 378.43 L232.05 378.67 L229.95 378.91 L227.68 379.15 L225.26 379.39 L222.73 379.63 L220.11 379.87 L217.44 380.11 L214.75 380.35 L212.08 380.59 L209.45 380.83 L206.91 381.07 L204.49 381.31 L202.20 381.55 L200.09 381.79 L198.18 382.03 L196.50 382.27 L195.05 382.51 L193.88 382.75 L192.97 382.99 L192.36 383.23 L192.05 383.47 L192.03 383.71 L192.32 383.95 L192.90 384.19 L193.77 384.43 L194.92 384.67 L196.34 384.91 L198.00 385.15 L199.89 385.39 L201.98 385.63 L204.24 385.87 L206.66 386.11 L209.19 386.35 L211.80 386.59 L214.47 386.83 L217.16 387.07 L219.83 387.31 L222.46 387.55 L225.00 387.79 L227.43 388.03 L229.72 388.27 L231.84 388.51 L233.75 388.75 L235.45 388.98 L236.90 389.22 L238.09 389.46 L239.00 389.70 L239.62 389.94 L239.95 390.18 L239.97 390.42 L239.70 390.66 L239.13 390.90 L238.27 391.14 L237.12 391.38 L235.72 391.62 L234.06 391.86 L232.18 392.10 L230.10 392.34 L227.84 392.58 L225.43 392.82 L222.90 393.06 L220.29 393.30 L217.62 393.54 L214.93 393.78 L212.26 394.02 L209.63 394.26 L207.08 394.50 L204.65 394.74 L202.35 394.98 L200.23 395.22 L198.31 395.46 L196.61 395.70 L195.15 395.94 L193.95 396.18 L193.03 396.42 L192.39 396.66 L192.06 396.90 L192.02 397.14 L192.29 397.38 L192.85 397.62 L193.70 397.86 L194.83 398.10 L196.23 398.34 L197.88 398.58 L199.75 398.82 L201.83 399.06 L204.08 399.30 L206.48 399.54 L209.01 399.78 L211.62 400.02 L214.29 400.26 L216.97 400.50 L219.65 400.74 L222.28 400.98 L224.83 401.22 L227.27 401.46 L229.57 401.70 L231.70 401.94 L233.63 402.18 L235.34 402.42 L236.81 402.66 L238.01 402.90 L238.95 403.14 L239.59 403.38 L239.94 403.62 L239.98 403.86 L239.73 404.10 L239.18 404.34 L238.33 404.58 L237.21 404.82 L235.82 405.06 L234.18 405.30 L232.32 405.54 L230.25 405.78 L228.00 406.02 L225.60 406.26 L223.08 406.50 L220.47 406.74 L217.81 406.98 L215.12 407.22 L212.44 407.46 L209.81 407.70 L207.26 407.94 L204.81 408.18 L202.51 408.42 L200.37 408.66 L198.43 408.90 L196.72 409.14 L195.24 409.38 L194.02 409.61 L193.08 409.85 L192.43 410.09 L192.07 410.33 L192.01 410.57 L192.26 410.81 L192.80 411.05 L193.63 411.29 L194.75 411.53 L196.13 411.77 L197.75 412.01 L199.61 412.25 L201.68 412.49 L203.92 412.73 L206.31 412.97 L208.83 413.21 L211.44 413.45 L214.10 413.69 L216.79 413.93 L219.47 414.17 L222.10 414.41 L224.66 414.65 L227.11 414.89 L229.42 415.13 L231.56 415.37 L233.50 415.61 L235.23 415.85 L236.71 416.09 L237.94 416.33 L238.89 416.57 L239.55 416.81 L239.92 417.05 L239.99 417.29 L239.76 417.53 L239.22 417.77 L238.40 418.01 L237.30 418.25 L235.93 418.49 L234.31 418.73 L232.45 418.97 L230.40 419.21 L228.16 419.45 L225.77 419.69 L223.26 419.93 L220.65 420.17 L217.99 420.41 L215.30 420.65 L212.63 420.89 L209.99 421.13 L207.43 421.37 L204.98 421.61 L202.66 421.85 L200.51 422.09 L198.56 422.33 L196.83 422.57 L195.33 422.81 L194.10 423.05 L193.14 423.29 L192.46 423.53 L192.09 423.77 L192.01 424.01 L192.23 424.25 L192.75 424.49 L193.57 424.73 L194.66 424.97 L196.02 425.21 L197.63 425.45 L199.48 425.69 L201.53 425.93 L203.76 426.17 L206.15 426.41 L208.65 426.65 L211.26 426.89 L213.92 427.13 L216.60 427.37 L219.28 427.61 L221.92 427.85 L224.48 428.09 L226.94 428.33 L229.26 428.57 L231.42 428.81 L233.38 429.05 L235.12 429.29 L236.62 429.53 L237.86 429.77 L238.83 430.00 L239.52 430.24 L239.91 430.48 L239.99 430.72 L239.78 430.96 L239.27 431.20 L238.47 431.44 L237.38 431.68 L236.03 431.92 L234.42 432.16 L232.59 432.40 L230.55 432.64 L228.32 432.88 L225.94 433.12 L223.43 433.36 L220.84 433.60 L218.18 433.84 L215.49 434.08 L212.81 434.32 L210.17 434.56 L207.60 434.80 L205.14 435.04 L202.82 435.28 L200.66 435.52 L198.69 435.76 L196.94 436.00 L195.43 436.24 L194.17 436.48 L193.19 436.72 L192.50 436.96 L192.10 437.20 L192.00 437.44 L192.21 437.68 L192.71 437.92 L193.50 438.16 L194.58 438.40 L195.92 438.64 L197.52 438.88 L199.34 439.12 L201.38 439.36 L203.60 439.60 L205.98 439.84 L208.48 440.08 L211.07 440.32 L213.73 440.56 L216.42 440.80 L219.10 441.04 L221.74 441.28 L224.31 441.52 L226.78 441.76 L229.11 442.00 L231.27 442.24 L233.25 442.48 L235.01 442.72 L236.52 442.96 L237.79 443.20 L238.78 443.44 L239.48 443.68 L239.89 443.92 L240.00 444.16 L239.81 444.40 L239.31 444.64 L238.53 444.88 L237.47 445.12 L236.13 445.36 L234.54 445.60 L232.72 445.84 L230.69 446.08 L228.48 446.32 L226.11 446.56 L223.61 446.80 L221.02 447.04 L218.36 447.28 L215.68 447.52 L212.99 447.76 L210.35 448.00 L207.78 448.24 L205.31 448.48 L202.97 448.72 L200.80 448.96 L198.82 449.20 L197.05 449.44 L195.52 449.68 L194.25 449.92 L193.25 450.16 L192.54 450.40 L192.12 450.63 L192.00 450.87 L192.18 451.11 L192.66 451.35 L193.44 451.59 L194.49 451.83 L195.82 452.07 L197.40 452.31 L199.21 452.55 L201.23 452.79 L203.44 453.03 L205.81 453.27 L208.30 453.51 L210.89 453.75 L213.55 453.99 L216.23 454.23 L218.91 454.47 L221.56 454.71 L224.14 454.95 L226.61 455.19 L228.95 455.43 L231.13 455.67 L233.12 455.91 L234.89 456.15 L236.43 456.39 L237.71 456.63 L238.72 456.87 L239.44 457.11 L239.87 457.35 L240.00 457.59 L239.83 457.83 L239.36 458.07 L238.59 458.31 L237.55 458.55 L236.23 458.79 L234.66 459.03 L232.86 459.27 L230.84 459.51 L228.64 459.75 L226.28 459.99 L223.79 460.23 L221.20 460.47 L218.55 460.71 L215.86 460.95 L213.18 461.19 L210.53 461.43 L207.95 461.67 L205.47 461.91 L203.13 462.15 L200.94 462.39 L198.95 462.63 L197.17 462.87 L195.62 463.11 L194.33 463.35 L193.31 463.59 L192.58 463.83 L192.14 464.07 L192.00 464.31 L192.16 464.55 L192.62 464.79 L193.37 465.03 L194.41 465.27 L195.72 465.51 L197.28 465.75 L199.08 465.99 L201.09 466.23 L203.28 466.47 L205.64 466.71 L208.13 466.95 L210.71 467.19 L213.36 467.43 L216.05 467.67 L218.73 467.91 L221.38 468.15 L223.96 468.39 L226.44 468.63 L228.79 468.87 L230.98 469.11 L232.99 469.35 L234.78 469.59 L236.33 469.83 L237.63 470.07 L238.66 470.31 L239.40 470.55 L239.85 470.79 L240.00 471.02" fill="none" stroke="#fff" stroke-width="4.10" stroke-linejoin="round"/>
<rect x="211.50" y="283.10" width="9.80" height="6.40" rx="0.00" fill="#fff" stroke="#231815" stroke-width="1.10"/>
<line x1="216.40" y1="283.10" x2="216.40" y2="289.50" stroke="#231815" stroke-width="1.00" />
<rect x="215" y="286.90" width="3" height="1.6" fill="#231815"/>
<path d="M211.5 296.55 Q211.5 303.25 216.4 303.25 Q221.3 303.25 221.3 296.55" fill="#fff" stroke="#231815" stroke-width="1.10" />
<line x1="214.80" y1="296.55" x2="214.80" y2="302.95" stroke="#231815" stroke-width="0.90" />
<line x1="218.00" y1="296.55" x2="218.00" y2="302.95" stroke="#231815" stroke-width="0.90" />
<rect x="211.50" y="310.00" width="9.80" height="6.40" rx="0.00" fill="#fff" stroke="#231815" stroke-width="1.10"/>
<line x1="216.40" y1="310.00" x2="216.40" y2="316.40" stroke="#231815" stroke-width="1.00" />
<rect x="215" y="313.80" width="3" height="1.6" fill="#231815"/>
<path d="M211.5 323.45 Q211.5 330.15 216.4 330.15 Q221.3 330.15 221.3 323.45" fill="#fff" stroke="#231815" stroke-width="1.10" />
<line x1="214.80" y1="323.45" x2="214.80" y2="329.85" stroke="#231815" stroke-width="0.90" />
<line x1="218.00" y1="323.45" x2="218.00" y2="329.85" stroke="#231815" stroke-width="0.90" />
<rect x="211.50" y="336.90" width="9.80" height="6.40" rx="0.00" fill="#fff" stroke="#231815" stroke-width="1.10"/>
<line x1="216.40" y1="336.90" x2="216.40" y2="343.30" stroke="#231815" stroke-width="1.00" />
<rect x="215" y="340.70" width="3" height="1.6" fill="#231815"/>
<path d="M211.5 350.35 Q211.5 357.05 216.4 357.05 Q221.3 357.05 221.3 350.35" fill="#fff" stroke="#231815" stroke-width="1.10" />
<line x1="214.80" y1="350.35" x2="214.80" y2="356.75" stroke="#231815" stroke-width="0.90" />
<line x1="218.00" y1="350.35" x2="218.00" y2="356.75" stroke="#231815" stroke-width="0.90" />
<rect x="211.50" y="363.80" width="9.80" height="6.40" rx="0.00" fill="#fff" stroke="#231815" stroke-width="1.10"/>
<line x1="216.40" y1="363.80" x2="216.40" y2="370.20" stroke="#231815" stroke-width="1.00" />
<rect x="215" y="367.60" width="3" height="1.6" fill="#231815"/>
<path d="M211.5 377.25 Q211.5 383.95 216.4 383.95 Q221.3 383.95 221.3 377.25" fill="#fff" stroke="#231815" stroke-width="1.10" />
<line x1="214.80" y1="377.25" x2="214.80" y2="383.65" stroke="#231815" stroke-width="0.90" />
<line x1="218.00" y1="377.25" x2="218.00" y2="383.65" stroke="#231815" stroke-width="0.90" />
<rect x="211.50" y="390.70" width="9.80" height="6.40" rx="0.00" fill="#fff" stroke="#231815" stroke-width="1.10"/>
<line x1="216.40" y1="390.70" x2="216.40" y2="397.10" stroke="#231815" stroke-width="1.00" />
<rect x="215" y="394.50" width="3" height="1.6" fill="#231815"/>
<path d="M211.5 404.15 Q211.5 410.85 216.4 410.85 Q221.3 410.85 221.3 404.15" fill="#fff" stroke="#231815" stroke-width="1.10" />
<line x1="214.80" y1="404.15" x2="214.80" y2="410.55" stroke="#231815" stroke-width="0.90" />
<line x1="218.00" y1="404.15" x2="218.00" y2="410.55" stroke="#231815" stroke-width="0.90" />
<rect x="211.50" y="417.60" width="9.80" height="6.40" rx="0.00" fill="#fff" stroke="#231815" stroke-width="1.10"/>
<line x1="216.40" y1="417.60" x2="216.40" y2="424.00" stroke="#231815" stroke-width="1.00" />
<rect x="215" y="421.40" width="3" height="1.6" fill="#231815"/>
<path d="M211.5 431.05 Q211.5 437.75 216.4 437.75 Q221.3 437.75 221.3 431.05" fill="#fff" stroke="#231815" stroke-width="1.10" />
<line x1="214.80" y1="431.05" x2="214.80" y2="437.45" stroke="#231815" stroke-width="0.90" />
<line x1="218.00" y1="431.05" x2="218.00" y2="437.45" stroke="#231815" stroke-width="0.90" />
<rect x="211.50" y="444.50" width="9.80" height="6.40" rx="0.00" fill="#fff" stroke="#231815" stroke-width="1.10"/>
<line x1="216.40" y1="444.50" x2="216.40" y2="450.90" stroke="#231815" stroke-width="1.00" />
<rect x="215" y="448.30" width="3" height="1.6" fill="#231815"/>
<path d="M211.5 457.95 Q211.5 464.65 216.4 464.65 Q221.3 464.65 221.3 457.95" fill="#fff" stroke="#231815" stroke-width="1.10" />
<line x1="214.80" y1="457.95" x2="214.80" y2="464.35" stroke="#231815" stroke-width="0.90" />
<line x1="218.00" y1="457.95" x2="218.00" y2="464.35" stroke="#231815" stroke-width="0.90" />
<rect x="196.9" y="293.70" width="2.6" height="4.6" fill="#fff" stroke="#231815" stroke-width="0.9"/>
<rect x="231.4" y="287.30" width="4.0" height="4.2" fill="#aaa" stroke="#231815" stroke-width="0.9"/>
<rect x="196.9" y="307.15" width="2.6" height="4.6" fill="#fff" stroke="#231815" stroke-width="0.9"/>
<rect x="231.4" y="300.75" width="4.0" height="4.2" fill="#aaa" stroke="#231815" stroke-width="0.9"/>
<rect x="196.9" y="320.60" width="2.6" height="4.6" fill="#fff" stroke="#231815" stroke-width="0.9"/>
<rect x="231.4" y="314.20" width="4.0" height="4.2" fill="#aaa" stroke="#231815" stroke-width="0.9"/>
<rect x="196.9" y="334.05" width="2.6" height="4.6" fill="#fff" stroke="#231815" stroke-width="0.9"/>
<rect x="231.4" y="327.65" width="4.0" height="4.2" fill="#aaa" stroke="#231815" stroke-width="0.9"/>
<rect x="196.9" y="347.50" width="2.6" height="4.6" fill="#fff" stroke="#231815" stroke-width="0.9"/>
<rect x="231.4" y="341.10" width="4.0" height="4.2" fill="#aaa" stroke="#231815" stroke-width="0.9"/>
<rect x="196.9" y="360.95" width="2.6" height="4.6" fill="#fff" stroke="#231815" stroke-width="0.9"/>
<rect x="231.4" y="354.55" width="4.0" height="4.2" fill="#aaa" stroke="#231815" stroke-width="0.9"/>
<rect x="196.9" y="374.40" width="2.6" height="4.6" fill="#fff" stroke="#231815" stroke-width="0.9"/>
<rect x="231.4" y="368.00" width="4.0" height="4.2" fill="#aaa" stroke="#231815" stroke-width="0.9"/>
<rect x="196.9" y="387.85" width="2.6" height="4.6" fill="#fff" stroke="#231815" stroke-width="0.9"/>
<rect x="231.4" y="381.45" width="4.0" height="4.2" fill="#aaa" stroke="#231815" stroke-width="0.9"/>
<path d="M192.00 276.00 L192.15 276.24 L192.60 276.48 L193.35 276.72 L194.38 276.96 L195.68 277.20 L197.24 277.44 L199.03 277.68 L201.04 277.92 L203.23 278.16 L205.59 278.40 L208.07 278.64 L210.66 278.88 L213.31 279.12 L216.00 279.36 L218.69 279.60 L221.34 279.84 L223.93 280.08 L226.41 280.32 L228.77 280.56 L230.96 280.80 L232.97 281.04 L234.76 281.28 L236.32 281.52 L237.62 281.76 L238.65 282.00 L239.40 282.24 L239.85 282.48 L240.00 282.73" fill="none" stroke="#231815" stroke-width="6.00"/>
<path d="M192.00 276.00 L192.15 276.24 L192.60 276.48 L193.35 276.72 L194.38 276.96 L195.68 277.20 L197.24 277.44 L199.03 277.68 L201.04 277.92 L203.23 278.16 L205.59 278.40 L208.07 278.64 L210.66 278.88 L213.31 279.12 L216.00 279.36 L218.69 279.60 L221.34 279.84 L223.93 280.08 L226.41 280.32 L228.77 280.56 L230.96 280.80 L232.97 281.04 L234.76 281.28 L236.32 281.52 L237.62 281.76 L238.65 282.00 L239.40 282.24 L239.85 282.48 L240.00 282.73" fill="none" stroke="#fff" stroke-width="4.10"/>
<path d="M192.00 289.45 L192.15 289.69 L192.60 289.93 L193.35 290.17 L194.38 290.41 L195.68 290.65 L197.24 290.89 L199.03 291.13 L201.04 291.37 L203.23 291.61 L205.59 291.85 L208.07 292.09 L210.66 292.33 L213.31 292.57 L216.00 292.81 L218.69 293.05 L221.34 293.29 L223.93 293.53 L226.41 293.77 L228.77 294.01 L230.96 294.25 L232.97 294.49 L234.76 294.73 L236.32 294.97 L237.62 295.21 L238.65 295.45 L239.40 295.69 L239.85 295.93 L240.00 296.18" fill="none" stroke="#231815" stroke-width="6.00"/>
<path d="M192.00 289.45 L192.15 289.69 L192.60 289.93 L193.35 290.17 L194.38 290.41 L195.68 290.65 L197.24 290.89 L199.03 291.13 L201.04 291.37 L203.23 291.61 L205.59 291.85 L208.07 292.09 L210.66 292.33 L213.31 292.57 L216.00 292.81 L218.69 293.05 L221.34 293.29 L223.93 293.53 L226.41 293.77 L228.77 294.01 L230.96 294.25 L232.97 294.49 L234.76 294.73 L236.32 294.97 L237.62 295.21 L238.65 295.45 L239.40 295.69 L239.85 295.93 L240.00 296.18" fill="none" stroke="#fff" stroke-width="4.10"/>
<path d="M192.00 302.90 L192.15 303.14 L192.60 303.38 L193.35 303.62 L194.38 303.86 L195.68 304.10 L197.24 304.34 L199.03 304.58 L201.04 304.82 L203.23 305.06 L205.59 305.30 L208.07 305.54 L210.66 305.78 L213.31 306.02 L216.00 306.26 L218.69 306.50 L221.34 306.74 L223.93 306.98 L226.41 307.22 L228.77 307.46 L230.96 307.70 L232.97 307.94 L234.76 308.18 L236.32 308.42 L237.62 308.66 L238.65 308.90 L239.40 309.14 L239.85 309.38 L240.00 309.62" fill="none" stroke="#231815" stroke-width="6.00"/>
<path d="M192.00 302.90 L192.15 303.14 L192.60 303.38 L193.35 303.62 L194.38 303.86 L195.68 304.10 L197.24 304.34 L199.03 304.58 L201.04 304.82 L203.23 305.06 L205.59 305.30 L208.07 305.54 L210.66 305.78 L213.31 306.02 L216.00 306.26 L218.69 306.50 L221.34 306.74 L223.93 306.98 L226.41 307.22 L228.77 307.46 L230.96 307.70 L232.97 307.94 L234.76 308.18 L236.32 308.42 L237.62 308.66 L238.65 308.90 L239.40 309.14 L239.85 309.38 L240.00 309.62" fill="none" stroke="#fff" stroke-width="4.10"/>
<path d="M192.00 316.35 L192.15 316.59 L192.60 316.83 L193.35 317.07 L194.38 317.31 L195.68 317.55 L197.24 317.79 L199.03 318.03 L201.04 318.27 L203.23 318.51 L205.59 318.75 L208.07 318.99 L210.66 319.23 L213.31 319.47 L216.00 319.71 L218.69 319.95 L221.34 320.19 L223.93 320.43 L226.41 320.67 L228.77 320.91 L230.96 321.15 L232.97 321.39 L234.76 321.63 L236.32 321.87 L237.62 322.11 L238.65 322.35 L239.40 322.59 L239.85 322.83 L240.00 323.07" fill="none" stroke="#231815" stroke-width="6.00"/>
<path d="M192.00 316.35 L192.15 316.59 L192.60 316.83 L193.35 317.07 L194.38 317.31 L195.68 317.55 L197.24 317.79 L199.03 318.03 L201.04 318.27 L203.23 318.51 L205.59 318.75 L208.07 318.99 L210.66 319.23 L213.31 319.47 L216.00 319.71 L218.69 319.95 L221.34 320.19 L223.93 320.43 L226.41 320.67 L228.77 320.91 L230.96 321.15 L232.97 321.39 L234.76 321.63 L236.32 321.87 L237.62 322.11 L238.65 322.35 L239.40 322.59 L239.85 322.83 L240.00 323.07" fill="none" stroke="#fff" stroke-width="4.10"/>
<path d="M192.00 329.80 L192.15 330.04 L192.60 330.28 L193.35 330.52 L194.38 330.76 L195.68 331.00 L197.24 331.24 L199.03 331.48 L201.04 331.72 L203.23 331.96 L205.59 332.20 L208.07 332.44 L210.66 332.68 L213.31 332.92 L216.00 333.16 L218.69 333.40 L221.34 333.64 L223.93 333.88 L226.41 334.12 L228.77 334.36 L230.96 334.60 L232.97 334.84 L234.76 335.08 L236.32 335.32 L237.62 335.56 L238.65 335.80 L239.40 336.04 L239.85 336.28 L240.00 336.52" fill="none" stroke="#231815" stroke-width="6.00"/>
<path d="M192.00 329.80 L192.15 330.04 L192.60 330.28 L193.35 330.52 L194.38 330.76 L195.68 331.00 L197.24 331.24 L199.03 331.48 L201.04 331.72 L203.23 331.96 L205.59 332.20 L208.07 332.44 L210.66 332.68 L213.31 332.92 L216.00 333.16 L218.69 333.40 L221.34 333.64 L223.93 333.88 L226.41 334.12 L228.77 334.36 L230.96 334.60 L232.97 334.84 L234.76 335.08 L236.32 335.32 L237.62 335.56 L238.65 335.80 L239.40 336.04 L239.85 336.28 L240.00 336.52" fill="none" stroke="#fff" stroke-width="4.10"/>
<path d="M192.00 343.25 L192.15 343.49 L192.60 343.73 L193.35 343.97 L194.38 344.21 L195.68 344.45 L197.24 344.69 L199.03 344.93 L201.04 345.17 L203.23 345.41 L205.59 345.65 L208.07 345.89 L210.66 346.13 L213.31 346.37 L216.00 346.61 L218.69 346.85 L221.34 347.09 L223.93 347.33 L226.41 347.57 L228.77 347.81 L230.96 348.05 L232.97 348.29 L234.76 348.53 L236.32 348.77 L237.62 349.01 L238.65 349.25 L239.40 349.49 L239.85 349.73 L240.00 349.97" fill="none" stroke="#231815" stroke-width="6.00"/>
<path d="M192.00 343.25 L192.15 343.49 L192.60 343.73 L193.35 343.97 L194.38 344.21 L195.68 344.45 L197.24 344.69 L199.03 344.93 L201.04 345.17 L203.23 345.41 L205.59 345.65 L208.07 345.89 L210.66 346.13 L213.31 346.37 L216.00 346.61 L218.69 346.85 L221.34 347.09 L223.93 347.33 L226.41 347.57 L228.77 347.81 L230.96 348.05 L232.97 348.29 L234.76 348.53 L236.32 348.77 L237.62 349.01 L238.65 349.25 L239.40 349.49 L239.85 349.73 L240.00 349.97" fill="none" stroke="#fff" stroke-width="4.10"/>
<path d="M192.00 356.70 L192.15 356.94 L192.60 357.18 L193.35 357.42 L194.38 357.66 L195.68 357.90 L197.24 358.14 L199.03 358.38 L201.04 358.62 L203.23 358.86 L205.59 359.10 L208.07 359.34 L210.66 359.58 L213.31 359.82 L216.00 360.06 L218.69 360.30 L221.34 360.54 L223.93 360.78 L226.41 361.02 L228.77 361.26 L230.96 361.50 L232.97 361.74 L234.76 361.98 L236.32 362.22 L237.62 362.46 L238.65 362.70 L239.40 362.94 L239.85 363.18 L240.00 363.43" fill="none" stroke="#231815" stroke-width="6.00"/>
<path d="M192.00 356.70 L192.15 356.94 L192.60 357.18 L193.35 357.42 L194.38 357.66 L195.68 357.90 L197.24 358.14 L199.03 358.38 L201.04 358.62 L203.23 358.86 L205.59 359.10 L208.07 359.34 L210.66 359.58 L213.31 359.82 L216.00 360.06 L218.69 360.30 L221.34 360.54 L223.93 360.78 L226.41 361.02 L228.77 361.26 L230.96 361.50 L232.97 361.74 L234.76 361.98 L236.32 362.22 L237.62 362.46 L238.65 362.70 L239.40 362.94 L239.85 363.18 L240.00 363.43" fill="none" stroke="#fff" stroke-width="4.10"/>
<path d="M192.00 370.15 L192.15 370.39 L192.60 370.63 L193.35 370.87 L194.38 371.11 L195.68 371.35 L197.24 371.59 L199.03 371.83 L201.04 372.07 L203.23 372.31 L205.59 372.55 L208.07 372.79 L210.66 373.03 L213.31 373.27 L216.00 373.51 L218.69 373.75 L221.34 373.99 L223.93 374.23 L226.41 374.47 L228.77 374.71 L230.96 374.95 L232.97 375.19 L234.76 375.43 L236.32 375.67 L237.62 375.91 L238.65 376.15 L239.40 376.39 L239.85 376.63 L240.00 376.88" fill="none" stroke="#231815" stroke-width="6.00"/>
<path d="M192.00 370.15 L192.15 370.39 L192.60 370.63 L193.35 370.87 L194.38 371.11 L195.68 371.35 L197.24 371.59 L199.03 371.83 L201.04 372.07 L203.23 372.31 L205.59 372.55 L208.07 372.79 L210.66 373.03 L213.31 373.27 L216.00 373.51 L218.69 373.75 L221.34 373.99 L223.93 374.23 L226.41 374.47 L228.77 374.71 L230.96 374.95 L232.97 375.19 L234.76 375.43 L236.32 375.67 L237.62 375.91 L238.65 376.15 L239.40 376.39 L239.85 376.63 L240.00 376.88" fill="none" stroke="#fff" stroke-width="4.10"/>
<path d="M192.00 383.60 L192.15 383.84 L192.60 384.08 L193.35 384.32 L194.38 384.56 L195.68 384.80 L197.24 385.04 L199.03 385.28 L201.04 385.52 L203.23 385.76 L205.59 386.00 L208.07 386.24 L210.66 386.48 L213.31 386.72 L216.00 386.96 L218.69 387.20 L221.34 387.44 L223.93 387.68 L226.41 387.92 L228.77 388.16 L230.96 388.40 L232.97 388.64 L234.76 388.88 L236.32 389.12 L237.62 389.36 L238.65 389.60 L239.40 389.84 L239.85 390.08 L240.00 390.32" fill="none" stroke="#231815" stroke-width="6.00"/>
<path d="M192.00 383.60 L192.15 383.84 L192.60 384.08 L193.35 384.32 L194.38 384.56 L195.68 384.80 L197.24 385.04 L199.03 385.28 L201.04 385.52 L203.23 385.76 L205.59 386.00 L208.07 386.24 L210.66 386.48 L213.31 386.72 L216.00 386.96 L218.69 387.20 L221.34 387.44 L223.93 387.68 L226.41 387.92 L228.77 388.16 L230.96 388.40 L232.97 388.64 L234.76 388.88 L236.32 389.12 L237.62 389.36 L238.65 389.60 L239.40 389.84 L239.85 390.08 L240.00 390.32" fill="none" stroke="#fff" stroke-width="4.10"/>
<path d="M192.00 397.05 L192.15 397.29 L192.60 397.53 L193.35 397.77 L194.38 398.01 L195.68 398.25 L197.24 398.49 L199.03 398.73 L201.04 398.97 L203.23 399.21 L205.59 399.45 L208.07 399.69 L210.66 399.93 L213.31 400.17 L216.00 400.41 L218.69 400.65 L221.34 400.89 L223.93 401.13 L226.41 401.37 L228.77 401.61 L230.96 401.85 L232.97 402.09 L234.76 402.33 L236.32 402.57 L237.62 402.81 L238.65 403.05 L239.40 403.29 L239.85 403.53 L240.00 403.77" fill="none" stroke="#231815" stroke-width="6.00"/>
<path d="M192.00 397.05 L192.15 397.29 L192.60 397.53 L193.35 397.77 L194.38 398.01 L195.68 398.25 L197.24 398.49 L199.03 398.73 L201.04 398.97 L203.23 399.21 L205.59 399.45 L208.07 399.69 L210.66 399.93 L213.31 400.17 L216.00 400.41 L218.69 400.65 L221.34 400.89 L223.93 401.13 L226.41 401.37 L228.77 401.61 L230.96 401.85 L232.97 402.09 L234.76 402.33 L236.32 402.57 L237.62 402.81 L238.65 403.05 L239.40 403.29 L239.85 403.53 L240.00 403.77" fill="none" stroke="#fff" stroke-width="4.10"/>
<path d="M192.00 410.50 L192.15 410.74 L192.60 410.98 L193.35 411.22 L194.38 411.46 L195.68 411.70 L197.24 411.94 L199.03 412.18 L201.04 412.42 L203.23 412.66 L205.59 412.90 L208.07 413.14 L210.66 413.38 L213.31 413.62 L216.00 413.86 L218.69 414.10 L221.34 414.34 L223.93 414.58 L226.41 414.82 L228.77 415.06 L230.96 415.30 L232.97 415.54 L234.76 415.78 L236.32 416.02 L237.62 416.26 L238.65 416.50 L239.40 416.74 L239.85 416.98 L240.00 417.23" fill="none" stroke="#231815" stroke-width="6.00"/>
<path d="M192.00 410.50 L192.15 410.74 L192.60 410.98 L193.35 411.22 L194.38 411.46 L195.68 411.70 L197.24 411.94 L199.03 412.18 L201.04 412.42 L203.23 412.66 L205.59 412.90 L208.07 413.14 L210.66 413.38 L213.31 413.62 L216.00 413.86 L218.69 414.10 L221.34 414.34 L223.93 414.58 L226.41 414.82 L228.77 415.06 L230.96 415.30 L232.97 415.54 L234.76 415.78 L236.32 416.02 L237.62 416.26 L238.65 416.50 L239.40 416.74 L239.85 416.98 L240.00 417.23" fill="none" stroke="#fff" stroke-width="4.10"/>
<path d="M192.00 423.95 L192.15 424.19 L192.60 424.43 L193.35 424.67 L194.38 424.91 L195.68 425.15 L197.24 425.39 L199.03 425.63 L201.04 425.87 L203.23 426.11 L205.59 426.35 L208.07 426.59 L210.66 426.83 L213.31 427.07 L216.00 427.31 L218.69 427.55 L221.34 427.79 L223.93 428.03 L226.41 428.27 L228.77 428.51 L230.96 428.75 L232.97 428.99 L234.76 429.23 L236.32 429.47 L237.62 429.71 L238.65 429.95 L239.40 430.19 L239.85 430.43 L240.00 430.67" fill="none" stroke="#231815" stroke-width="6.00"/>
<path d="M192.00 423.95 L192.15 424.19 L192.60 424.43 L193.35 424.67 L194.38 424.91 L195.68 425.15 L197.24 425.39 L199.03 425.63 L201.04 425.87 L203.23 426.11 L205.59 426.35 L208.07 426.59 L210.66 426.83 L213.31 427.07 L216.00 427.31 L218.69 427.55 L221.34 427.79 L223.93 428.03 L226.41 428.27 L228.77 428.51 L230.96 428.75 L232.97 428.99 L234.76 429.23 L236.32 429.47 L237.62 429.71 L238.65 429.95 L239.40 430.19 L239.85 430.43 L240.00 430.67" fill="none" stroke="#fff" stroke-width="4.10"/>
<path d="M192.00 437.40 L192.15 437.64 L192.60 437.88 L193.35 438.12 L194.38 438.36 L195.68 438.60 L197.24 438.84 L199.03 439.08 L201.04 439.32 L203.23 439.56 L205.59 439.80 L208.07 440.04 L210.66 440.28 L213.31 440.52 L216.00 440.76 L218.69 441.00 L221.34 441.24 L223.93 441.48 L226.41 441.72 L228.77 441.96 L230.96 442.20 L232.97 442.44 L234.76 442.68 L236.32 442.92 L237.62 443.16 L238.65 443.40 L239.40 443.64 L239.85 443.88 L240.00 444.12" fill="none" stroke="#231815" stroke-width="6.00"/>
<path d="M192.00 437.40 L192.15 437.64 L192.60 437.88 L193.35 438.12 L194.38 438.36 L195.68 438.60 L197.24 438.84 L199.03 439.08 L201.04 439.32 L203.23 439.56 L205.59 439.80 L208.07 440.04 L210.66 440.28 L213.31 440.52 L216.00 440.76 L218.69 441.00 L221.34 441.24 L223.93 441.48 L226.41 441.72 L228.77 441.96 L230.96 442.20 L232.97 442.44 L234.76 442.68 L236.32 442.92 L237.62 443.16 L238.65 443.40 L239.40 443.64 L239.85 443.88 L240.00 444.12" fill="none" stroke="#fff" stroke-width="4.10"/>
<path d="M192.00 450.85 L192.15 451.09 L192.60 451.33 L193.35 451.57 L194.38 451.81 L195.68 452.05 L197.24 452.29 L199.03 452.53 L201.04 452.77 L203.23 453.01 L205.59 453.25 L208.07 453.49 L210.66 453.73 L213.31 453.97 L216.00 454.21 L218.69 454.45 L221.34 454.69 L223.93 454.93 L226.41 455.17 L228.77 455.41 L230.96 455.65 L232.97 455.89 L234.76 456.13 L236.32 456.37 L237.62 456.61 L238.65 456.85 L239.40 457.09 L239.85 457.33 L240.00 457.57" fill="none" stroke="#231815" stroke-width="6.00"/>
<path d="M192.00 450.85 L192.15 451.09 L192.60 451.33 L193.35 451.57 L194.38 451.81 L195.68 452.05 L197.24 452.29 L199.03 452.53 L201.04 452.77 L203.23 453.01 L205.59 453.25 L208.07 453.49 L210.66 453.73 L213.31 453.97 L216.00 454.21 L218.69 454.45 L221.34 454.69 L223.93 454.93 L226.41 455.17 L228.77 455.41 L230.96 455.65 L232.97 455.89 L234.76 456.13 L236.32 456.37 L237.62 456.61 L238.65 456.85 L239.40 457.09 L239.85 457.33 L240.00 457.57" fill="none" stroke="#fff" stroke-width="4.10"/>
<path d="M192.00 464.30 L192.15 464.54 L192.60 464.78 L193.35 465.02 L194.38 465.26 L195.68 465.50 L197.24 465.74 L199.03 465.98 L201.04 466.22 L203.23 466.46 L205.59 466.70 L208.07 466.94 L210.66 467.18 L213.31 467.42 L216.00 467.66 L218.69 467.90 L221.34 468.14 L223.93 468.38 L226.41 468.62 L228.77 468.86 L230.96 469.10 L232.97 469.34 L234.76 469.58 L236.32 469.82 L237.62 470.06 L238.65 470.30 L239.40 470.54 L239.85 470.78 L240.00 471.02" fill="none" stroke="#231815" stroke-width="6.00"/>
<path d="M192.00 464.30 L192.15 464.54 L192.60 464.78 L193.35 465.02 L194.38 465.26 L195.68 465.50 L197.24 465.74 L199.03 465.98 L201.04 466.22 L203.23 466.46 L205.59 466.70 L208.07 466.94 L210.66 467.18 L213.31 467.42 L216.00 467.66 L218.69 467.90 L221.34 468.14 L223.93 468.38 L226.41 468.62 L228.77 468.86 L230.96 469.10 L232.97 469.34 L234.76 469.58 L236.32 469.82 L237.62 470.06 L238.65 470.30 L239.40 470.54 L239.85 470.78 L240.00 471.02" fill="none" stroke="#fff" stroke-width="4.10"/>
<circle cx="191.80" cy="276.30" r="2.80" fill="#fff" stroke="#231815" stroke-width="1.20"/>
<circle cx="240.60" cy="276.30" r="2.80" fill="#fff" stroke="#231815" stroke-width="1.20"/>
<circle cx="212.70" cy="485.30" r="7.40" fill="#fff" stroke="#231815" stroke-width="1.50"/>
<path d="M209.5 480.9 L213.8 480.9 A4.6 4.6 0 0 1 213.8 490.1 L209.5 490.1 Q207.8 485.5 209.5 480.9 Z" fill="none" stroke="#231815" stroke-width="1.10" />
<circle cx="214.6" cy="485.2" r="1.7" fill="#231815"/>
<path d="M182.7 525.5 L169.7 543.7 L256.8 543.7 L248.8 525.5 Z" fill="#fff" stroke="#231815" stroke-width="1.30" />
<path d="M169.7 543.7 C165.5 555 165.5 571 169.7 582.3 L256.5 582.3 C260.2 571 260.2 555 256.5 543.7 Z" fill="#fff" stroke="#231815" stroke-width="1.40" />
<circle cx="190.60" cy="533.50" r="6.50" fill="#fff" stroke="#231815" stroke-width="1.90"/>
<circle cx="190.60" cy="533.50" r="4.60" fill="#fff" stroke="#231815" stroke-width="1.00"/>
<circle cx="225.40" cy="533.50" r="6.50" fill="#fff" stroke="#231815" stroke-width="1.90"/>
<circle cx="225.40" cy="533.50" r="4.60" fill="#fff" stroke="#231815" stroke-width="1.00"/>
<circle cx="207.60" cy="532.80" r="8.70" fill="#fff" stroke="#231815" stroke-width="1.90"/>
<circle cx="207.6" cy="532.8" r="6.0" fill="none" stroke="#231815" stroke-width="1.3" stroke-dasharray="6 3.4" transform="rotate(20 207.6 532.8)"/>
<line x1="168.70" y1="543.70" x2="257.30" y2="543.70" stroke="#231815" stroke-width="2.50" />
<line x1="168.70" y1="582.30" x2="257.30" y2="582.30" stroke="#231815" stroke-width="2.50" />
<line x1="184.70" y1="543.70" x2="184.70" y2="582.30" stroke="#231815" stroke-width="1.10" />
<line x1="231.20" y1="543.70" x2="231.20" y2="582.30" stroke="#231815" stroke-width="1.10" />
<path d="M176 545.5 Q173 563 176 580.5" fill="none" stroke="#231815" stroke-width="0.80" />
<path d="M250 545.5 Q253 563 250 580.5" fill="none" stroke="#231815" stroke-width="0.80" />
<rect x="189.30" y="550.20" width="36.60" height="26.10" rx="0.00" fill="#fff" stroke="#231815" stroke-width="1.50"/>
<rect x="192.40" y="553.30" width="30.90" height="20.00" rx="0.00" fill="#fff" stroke="#231815" stroke-width="1.10"/>
<path d="M189.3 550.2 L225.9 550.2 L223.3 553.3 L192.4 553.3 Z M192.4 573.3 L223.3 573.3 L225.9 576.3 L189.3 576.3 Z" fill="#777"/>
<line x1="221.50" y1="576.30" x2="221.50" y2="582.30" stroke="#231815" stroke-width="1.00" />
<path d="M169.7 583.3 C176 591 190 594.5 199 595 L233 595 C242 594.5 251 591 256.5 583.3" fill="none" stroke="#231815" stroke-width="1.40" />
<line x1="188.00" y1="585.60" x2="238.00" y2="585.60" stroke="#777" stroke-width="1.50" />
<path d="M199.2 594 L233.3 594 L233.3 596 L231 596 L231 604 L201 604 L201 596 L199.2 596 Z" fill="#fff" stroke="#231815" stroke-width="1.20" />
<rect x="204.50" y="596.50" width="15.50" height="6.00" rx="0.00" fill="#fff" stroke="#231815" stroke-width="1.10"/>
<path d="M201 604 Q205 608 203 613 L228.4 613 Q226 608 231 604" fill="#fff" stroke="#231815" stroke-width="1.20" />
<path d="M203 613 L228.4 613 L230 626 Q232 648 229.3 671 L202.5 671 Q199.8 648 201.7 626 Z" fill="#fff" stroke="#231815" stroke-width="1.30" />
<rect x="203" y="613" width="25.4" height="13" fill="#231815"/>
<line x1="203.00" y1="619.50" x2="228.40" y2="619.50" stroke="#666" stroke-width="0.50" />
<rect x="202.5" y="671" width="27" height="10.5" fill="#231815"/>
<line x1="202.50" y1="675.00" x2="229.50" y2="675.00" stroke="#fff" stroke-width="0.90" />
<line x1="202.50" y1="678.20" x2="229.50" y2="678.20" stroke="#bbb" stroke-width="0.70" />
<path d="M203.5 681.5 Q204 686 200.5 689 L231.5 689 Q228 686 228.5 681.5" fill="#fff" stroke="#231815" stroke-width="1.30" />
<rect x="200.00" y="689.00" width="31.70" height="4.30" rx="1.20" fill="#fff" stroke="#231815" stroke-width="1.50"/>
<rect x="210.60" y="693.30" width="11.40" height="6.90" rx="0.00" fill="#fff" stroke="#231815" stroke-width="1.10"/>
<rect x="205.70" y="700.00" width="20.30" height="2.50" rx="0.00" fill="#fff" stroke="#231815" stroke-width="1.40"/>
<rect x="206.10" y="699.20" width="19.50" height="2.30" rx="0.00" fill="#fff" stroke="#231815" stroke-width="1.50"/>
<path d="M198.2 701.2 L233.5 701.2 L233.5 731 Q233.5 739.5 227 741 L204.3 741 Q198.2 739.5 198.2 731 Z" fill="#fff" stroke="#231815" stroke-width="1.50" />
<line x1="198.20" y1="712.20" x2="233.50" y2="712.20" stroke="#231815" stroke-width="1.70" />
<line x1="198.20" y1="719.60" x2="233.50" y2="719.60" stroke="#231815" stroke-width="1.70" />
<line x1="198.20" y1="729.80" x2="233.50" y2="729.80" stroke="#231815" stroke-width="2.00" />
<ellipse cx="231.0" cy="708" rx="1.3" ry="3" fill="none" stroke="#231815" stroke-width="1.0"/>
<ellipse cx="231.0" cy="725" rx="1.4" ry="3.4" fill="#231815"/>
<path d="M205.2 741.8 L226.1 741.8 L225.5 752 Q224 760 221.9 763.6 L208.9 763.6 Q206.5 758 205.8 752 Z" fill="#fff" stroke="#231815" stroke-width="1.30" />
<path d="M209.4 763.6 L209.4 747 Q214.2 740 219.1 747 L219.1 763.6" fill="#fff" stroke="#231815" stroke-width="1.30" />
<circle cx="214.00" cy="756.70" r="3.20" fill="#fff" stroke="#231815" stroke-width="1.40"/>
<path d="M222.5 746 Q225.5 753 222.5 762" stroke="#231815" stroke-width="2.2" fill="none"/>
<rect x="210.30" y="763.60" width="9.20" height="7.10" rx="0.00" fill="#fff" stroke="#231815" stroke-width="1.20"/>
<line x1="208.50" y1="767.40" x2="221.00" y2="767.40" stroke="#231815" stroke-width="1.20" />
<path d="M209.50 770.70 C211.43 770.70 218.78 769.38 221.10 770.70 C223.42 772.02 221.47 775.12 223.40 778.60 C225.33 782.08 229.77 787.62 232.70 791.60 C235.63 795.58 239.22 799.27 241.00 802.50 C242.78 805.73 243.55 807.57 243.40 811.00 C243.25 814.43 242.50 819.37 240.10 823.10 C237.70 826.83 232.70 831.48 229.00 833.40 C225.30 835.32 221.77 835.17 217.90 834.60 C214.03 834.03 209.18 832.43 205.80 830.00 C202.42 827.57 199.30 823.62 197.60 820.00 C195.90 816.38 195.93 811.72 195.60 808.30 C195.27 804.88 195.13 801.32 195.60 799.50 C196.07 797.68 197.93 797.75 198.40 797.40 L198.40 797.40 C198.92 797.75 200.58 798.47 201.50 799.50 C202.42 800.53 203.32 801.52 203.90 803.60 C204.48 805.68 204.38 809.52 205.00 812.00 C205.62 814.48 205.92 816.85 207.60 818.50 C209.28 820.15 212.50 821.90 215.10 821.90 C217.70 821.90 221.42 820.47 223.20 818.50 C224.98 816.53 225.77 812.73 225.80 810.10 C225.83 807.47 224.72 805.17 223.40 802.70 C222.08 800.23 219.87 798.55 217.90 795.30 C215.93 792.05 213.00 787.30 211.60 783.20 C210.20 779.10 209.85 772.78 209.50 770.70 Z" fill="#fff" stroke="#231815" stroke-width="1.40" />
<line x1="209.50" y1="770.70" x2="221.10" y2="770.70" stroke="#231815" stroke-width="1.40" />
<line x1="223.00" y1="802.20" x2="233.20" y2="792.00" stroke="#231815" stroke-width="1.00" />
<line x1="225.70" y1="810.90" x2="243.40" y2="810.90" stroke="#231815" stroke-width="1.00" />
<line x1="206.70" y1="818.50" x2="200.70" y2="824.00" stroke="#231815" stroke-width="1.00" />
<path d="M200.2 772 L208.6 771.6 L210.9 782.3 L210.2 802.7 L206.7 803.2 Z" fill="#fff" stroke="#231815" stroke-width="1.30" />
<path d="M201.6 777.5 L207.3 802" stroke="#231815" stroke-width="2.6" fill="none"/>
<path d="M201.6 777.5 L207.3 802" stroke="#fff" stroke-width="0.6" stroke-dasharray="0.8 1.6" fill="none"/>
<circle cx="205.30" cy="776.70" r="2.30" fill="#fff" stroke="#231815" stroke-width="1.20"/>
<path d="M900.72 169.30 L1020.10 169.30 Q1033.60 169.30 1033.60 182.80 L1033.60 253.80 Q1033.60 267.30 1020.10 267.30 L900.72 267.30 A53.50 53.50 0 0 1 900.72 169.30 Z" fill="#fff" stroke="#231815" stroke-width="1.70" />
<path d="M900.25 172.60 L1019.50 172.60 Q1030.50 172.60 1030.50 183.60 L1030.50 253.20 Q1030.50 264.20 1019.50 264.20 L900.67 264.20 A50.70 50.70 0 0 1 900.25 172.60 Z" fill="none" stroke="#231815" stroke-width="0.90" />
<path d="M901.27 179.30 L1020.10 179.30 Q1023.60 179.30 1023.60 182.80 L1023.60 255.10 Q1023.60 258.60 1020.10 258.60 L901.10 258.60 A46.20 46.20 0 0 1 901.27 179.30 Z" fill="none" stroke="#231815" stroke-width="1.30" />
<line x1="903.00" y1="172.60" x2="1020.00" y2="172.60" stroke="#777" stroke-width="1.60" />
<circle cx="904.90" cy="194.00" r="3.60" fill="#fff" stroke="#231815" stroke-width="1.30"/>
<circle cx="904.90" cy="194.00" r="1.70" fill="#fff" stroke="#231815" stroke-width="1.10"/>
<circle cx="904.90" cy="244.00" r="3.60" fill="#fff" stroke="#231815" stroke-width="1.30"/>
<circle cx="904.90" cy="244.00" r="1.70" fill="#fff" stroke="#231815" stroke-width="1.10"/>
<circle cx="1027.50" cy="193.90" r="3.60" fill="#fff" stroke="#231815" stroke-width="1.30"/>
<circle cx="1027.50" cy="193.90" r="1.70" fill="#fff" stroke="#231815" stroke-width="1.10"/>
<circle cx="1027.50" cy="243.80" r="3.60" fill="#fff" stroke="#231815" stroke-width="1.30"/>
<circle cx="1027.50" cy="243.80" r="1.70" fill="#fff" stroke="#231815" stroke-width="1.10"/>
<path d="M930 153.5 L940.6 122 C943.5 110.5 951.5 104.3 962.7 104.3 C974 104.3 982 110.5 984.8 122 L992.6 153.5" fill="none" stroke="#231815" stroke-width="1.30" />
<path d="M937.9 153.5 L947.8 122 C950.5 115.5 955.5 112.6 962.5 112.6 C969.5 112.6 974.5 115.5 977.2 122 L984.3 153.5" fill="none" stroke="#231815" stroke-width="1.30" />
<path d="M932.2 153.5 L942.6 122 C945.3 112.3 952.5 106.5 962.7 106.5 C973 106.5 980.3 112.3 982.8 122 L990.4 153.5" fill="none" stroke="#555" stroke-width="1.90" />
<path d="M935.8 153.5 L945.8 122 C948.5 114 954.5 110.6 962.5 110.6 C970.5 110.6 976.5 114 979.3 122 L986.5 153.5" fill="none" stroke="#555" stroke-width="1.50" />
<path d="M915.6 169.3 L925.3 154 L936.9 154 L946.7 169.3" fill="#fff" stroke="#231815" stroke-width="1.20" />
<path d="M918.1 169.3 L926.5 155.5" fill="none" stroke="#231815" stroke-width="0.80" />
<path d="M944.2 169.3 L935.7 155.5" fill="none" stroke="#231815" stroke-width="0.80" />
<line x1="925.30" y1="156.30" x2="936.90" y2="156.30" stroke="#231815" stroke-width="1.00" />
<rect x="928.80" y="165.50" width="4.20" height="3.80" rx="0.00" fill="#fff" stroke="#231815" stroke-width="1.00"/>
<circle cx="930.90" cy="162.60" r="4.50" fill="#fff" stroke="#231815" stroke-width="1.40"/>
<path d="M976.4 169.3 L986.1 154 L997.7 154 L1007.5 169.3" fill="#fff" stroke="#231815" stroke-width="1.20" />
<path d="M978.9 169.3 L987.3 155.5" fill="none" stroke="#231815" stroke-width="0.80" />
<path d="M1005.0 169.3 L996.5 155.5" fill="none" stroke="#231815" stroke-width="0.80" />
<line x1="986.10" y1="156.30" x2="997.70" y2="156.30" stroke="#231815" stroke-width="1.00" />
<rect x="989.60" y="165.50" width="4.20" height="3.80" rx="0.00" fill="#fff" stroke="#231815" stroke-width="1.00"/>
<circle cx="991.70" cy="162.60" r="4.50" fill="#fff" stroke="#231815" stroke-width="1.40"/>
<line x1="905.00" y1="169.30" x2="1020.00" y2="169.30" stroke="#231815" stroke-width="1.80" />
<path d="M1033.4 248.7 L1040 248.7 Q1046.7 250.5 1046.7 256 L1046.7 262 Q1046.7 264 1044 264 L1033.4 264" fill="#fff" stroke="#231815" stroke-width="1.20" />
<circle cx="1036.60" cy="258.30" r="3.80" fill="#fff" stroke="#231815" stroke-width="1.40"/>
<circle cx="1036.60" cy="258.30" r="1.80" fill="#fff" stroke="#231815" stroke-width="1.00"/>
<path d="M979.43 294.88 L977.70 295.12 L975.75 295.35 L973.61 295.59 L971.29 295.83 L968.84 296.07 L966.28 296.31 L963.64 296.55 L960.96 296.79 L958.27 297.03 L955.61 297.26 L953.00 297.50 L950.48 297.74 L948.09 297.98 L945.84 298.22 L943.78 298.46 L941.93 298.70 L940.30 298.94 L938.92 299.18 L937.81 299.41 L936.99 299.65 L936.45 299.89 L936.21 300.13 L936.28 300.37 L936.64 300.61 L937.30 300.85 L938.25 301.09 L939.48 301.33 L940.96 301.56 L942.69 301.80 L944.63 302.04 L946.78 302.28 L949.09 302.52 L951.54 302.76 L954.10 303.00 L956.74 303.24 L959.42 303.48 L962.11 303.71 L964.77 303.95 L967.38 304.19 L969.90 304.43 L972.30 304.67 L974.54 304.91 L976.60 305.15 L978.46 305.39 L980.09 305.63 L981.47 305.86 L982.58 306.10 L983.41 306.34 L983.95 306.58 L984.19 306.82 L984.12 307.06 L983.76 307.30 L983.10 307.54 L982.16 307.78 L980.93 308.01 L979.45 308.25 L977.73 308.49 L975.78 308.73 L973.64 308.97 L971.33 309.21 L968.88 309.45 L966.32 309.69 L963.68 309.92 L961.00 310.16 L958.31 310.40 L955.65 310.64 L953.04 310.88 L950.52 311.12 L948.12 311.36 L945.88 311.60 L943.81 311.84 L941.95 312.07 L940.32 312.31 L938.94 312.55 L937.83 312.79 L937.00 313.03 L936.46 313.27 L936.21 313.51 L936.27 313.75 L936.63 313.99 L937.29 314.22 L938.23 314.46 L939.46 314.70 L940.94 314.94 L942.66 315.18 L944.60 315.42 L946.74 315.66 L949.05 315.90 L951.50 316.14 L954.06 316.37 L956.70 316.61 L959.38 316.85 L962.07 317.09 L964.73 317.33 L967.34 317.57 L969.86 317.81 L972.26 318.05 L974.51 318.29 L976.57 318.52 L978.44 318.76 L980.07 319.00 L981.45 319.24 L982.56 319.48 L983.40 319.72 L983.94 319.96 L984.19 320.20 L984.13 320.43 L983.77 320.67 L983.12 320.91 L982.17 321.15 L980.95 321.39 L979.47 321.63 L977.75 321.87 L975.81 322.11 L973.67 322.35 L971.36 322.58 L968.92 322.82 L966.36 323.06 L963.72 323.30 L961.04 323.54 L958.35 323.78 L955.69 324.02 L953.08 324.26 L950.56 324.50 L948.16 324.73 L945.91 324.97 L943.84 325.21 L941.98 325.45 L940.34 325.69 L938.96 325.93 L937.84 326.17 L937.01 326.41 L936.46 326.65 L936.22 326.88 L936.27 327.12 L936.63 327.36 L937.28 327.60 L938.22 327.84 L939.44 328.08 L940.91 328.32 L942.63 328.56 L944.57 328.80 L946.71 329.03 L949.02 329.27 L951.47 329.51 L954.02 329.75 L956.66 329.99 L959.34 330.23 L962.03 330.47 L964.69 330.71 L967.30 330.94 L969.83 331.18 L972.23 331.42 L974.48 331.66 L976.55 331.90 L978.41 332.14 L980.05 332.38 L981.43 332.62 L982.55 332.86 L983.39 333.09 L983.94 333.33 L984.18 333.57 L984.13 333.81 L983.78 334.05 L983.13 334.29 L982.19 334.53 L980.97 334.77 L979.50 335.01 L977.78 335.24 L975.84 335.48 L973.71 335.72 L971.40 335.96 L968.95 336.20 L966.40 336.44 L963.76 336.68 L961.08 336.92 L958.39 337.16 L955.73 337.39 L953.11 337.63 L950.59 337.87 L948.19 338.11 L945.94 338.35 L943.87 338.59 L942.00 338.83 L940.37 339.07 L938.98 339.31 L937.86 339.54 L937.02 339.78 L936.47 340.02 L936.22 340.26 L936.27 340.50 L936.62 340.74 L937.27 340.98 L938.20 341.22 L939.42 341.46 L940.89 341.69 L942.61 341.93 L944.54 342.17 L946.68 342.41 L948.98 342.65 L951.43 342.89 L953.98 343.13 L956.62 343.37 L959.30 343.60 L961.99 343.84 L964.65 344.08 L967.27 344.32 L969.79 344.56 L972.19 344.80 L974.44 345.04 L976.52 345.28 L978.38 345.52 L980.02 345.75 L981.41 345.99 L982.54 346.23 L983.38 346.47 L983.93 346.71 L984.18 346.95 L984.13 347.19 L983.78 347.43 L983.14 347.67 L982.20 347.90 L980.99 348.14 L979.52 348.38 L977.81 348.62 L975.87 348.86 L973.74 349.10 L971.43 349.34 L968.99 349.58 L966.43 349.82 L963.80 350.05 L961.12 350.29 L958.43 350.53 L955.76 350.77 L953.15 351.01 L950.63 351.25 L948.23 351.49 L945.97 351.73 L943.90 351.97 L942.03 352.20 L940.39 352.44 L939.00 352.68 L937.87 352.92 L937.03 353.16 L936.47 353.40 L936.22 353.64 L936.26 353.88 L936.61 354.11 L937.26 354.35 L938.19 354.59 L939.40 354.83 L940.87 355.07 L942.58 355.31 L944.51 355.55 L946.65 355.79 L948.95 356.03 L951.39 356.26 L953.95 356.50 L956.58 356.74 L959.26 356.98 L961.95 357.22 L964.62 357.46 L967.23 357.70 L969.75 357.94 L972.16 358.18 L974.41 358.41 L976.49 358.65 L978.36 358.89 L980.00 359.13 L981.39 359.37 L982.52 359.61 L983.37 359.85 L983.92 360.09 L984.18 360.33 L984.14 360.56 L983.79 360.80 L983.15 361.04 L982.22 361.28 L981.01 361.52 L979.55 361.76 L977.83 362.00 L975.90 362.24 L973.77 362.48 L971.47 362.71 L969.03 362.95 L966.47 363.19 L963.84 363.43 L961.16 363.67 L958.47 363.91 L955.80 364.15 L953.19 364.39 L950.67 364.63 L948.26 364.86 L946.00 365.10 L943.93 365.34 L942.06 365.58 L940.41 365.82 L939.02 366.06 L937.89 366.30 L937.04 366.54 L936.48 366.77 L936.22 367.01 L936.26 367.25 L936.60 367.49 L937.24 367.73 L938.17 367.97 L939.38 368.21 L940.84 368.45 L942.55 368.69 L944.48 368.92 L946.61 369.16 L948.91 369.40 L951.35 369.64 L953.91 369.88 L956.54 370.12 L959.22 370.36 L961.91 370.60 L964.58 370.84 L967.19 371.07 L969.72 371.31 L972.12 371.55 L974.38 371.79 L976.46 372.03 L978.33 372.27 L979.98 372.51 L981.38 372.75 L982.51 372.99 L983.36 373.22 L983.92 373.46 L984.18 373.70 L984.14 373.94 L983.80 374.18 L983.16 374.42 L982.24 374.66 L981.03 374.90 L979.57 375.14 L977.86 375.37 L975.93 375.61 L973.80 375.85 L971.50 376.09 L969.06 376.33 L966.51 376.57 L963.88 376.81 L961.20 377.05 L958.51 377.28 L955.84 377.52 L953.23 377.76 L950.70 378.00 L948.29 378.24 L946.04 378.48 L943.96 378.72 L942.08 378.96 L940.43 379.20 L939.03 379.43 L937.90 379.67 L937.05 379.91 L936.49 380.15 L936.22 380.39 L936.26 380.63 L936.60 380.87 L937.23 381.11 L938.16 381.35 L939.36 381.58 L940.82 381.82 L942.53 382.06 L944.45 382.30 L946.58 382.54 L948.88 382.78 L951.32 383.02 L953.87 383.26 L956.50 383.50 L959.18 383.73 L961.87 383.97 L964.54 384.21 L967.15 384.45 L969.68 384.69 L972.09 384.93 L974.35 385.17 L976.43 385.41 L978.31 385.65 L979.96 385.88 L981.36 386.12 L982.49 386.36 L983.35 386.60 L983.91 386.84 L984.18 387.08 L984.14 387.32 L983.81 387.56 L983.17 387.79 L982.25 388.03 L981.05 388.27 L979.59 388.51 L977.89 388.75 L975.96 388.99 L973.84 389.23 L971.54 389.47 L969.10 389.71 L966.55 389.94 L963.92 390.18 L961.24 390.42 L958.55 390.66 L955.88 390.90 L953.27 391.14 L950.74 391.38 L948.33 391.62 L946.07 391.86 L943.99 392.09 L942.11 392.33 L940.46 392.57 L939.05 392.81 L937.92 393.05 L937.06 393.29 L936.49 393.53 L936.22 393.77 L936.26 394.01 L936.59 394.24 L937.22 394.48 L938.14 394.72 L939.34 394.96 L940.80 395.20 L942.50 395.44 L944.42 395.68 L946.55 395.92 L948.84 396.16 L951.28 396.39 L953.83 396.63 L956.46 396.87 L959.14 397.11 L961.83 397.35 L964.50 397.59 L967.11 397.83 L969.64 398.07 L972.05 398.31 L974.32 398.54 L976.40 398.78 L978.28 399.02 L979.93 399.26 L981.34 399.50 L982.48 399.74 L983.34 399.98 L983.91 400.22 L984.18 400.45 L984.15 400.69 L983.81 400.93 L983.19 401.17 L982.27 401.41 L981.07 401.65 L979.62 401.89 L977.91 402.13 L975.99 402.37 L973.87 402.60 L971.57 402.84 L969.14 403.08 L966.59 403.32 L963.96 403.56 L961.28 403.80 L958.59 404.04 L955.92 404.28 L953.30 404.52 L950.77 404.75 L948.36 404.99 L946.10 405.23 L944.02 405.47 L942.13 405.71 L940.48 405.95 L939.07 406.19 L937.93 406.43 L937.07 406.67 L936.50 406.90 L936.22 407.14 L936.25 407.38 L936.58 407.62 L937.21 407.86 L938.12 408.10 L939.32 408.34 L940.77 408.58 L942.47 408.82 L944.39 409.05 L946.51 409.29 L948.81 409.53 L951.24 409.77 L953.79 410.01 L956.42 410.25 L959.10 410.49 L961.79 410.73 L964.46 410.96 L967.08 411.20 L969.61 411.44 L972.02 411.68 L974.28 411.92 L976.37 412.16 L978.25 412.40 L979.91 412.64 L981.32 412.88 L982.46 413.11 L983.33 413.35 L983.90 413.59 L984.17 413.83 L984.15 414.07 L983.82 414.31 L983.20 414.55 L982.28 414.79 L981.09 415.03 L979.64 415.26 L977.94 415.50 L976.02 415.74 L973.90 415.98 L971.61 416.22 L969.17 416.46 L966.63 416.70 L964.00 416.94 L961.32 417.18 L958.63 417.41 L955.96 417.65 L953.34 417.89 L950.81 418.13 L948.40 418.37 L946.13 418.61 L944.04 418.85 L942.16 419.09 L940.50 419.33 L939.09 419.56 L937.94 419.80 L937.08 420.04 L936.50 420.28 L936.23 420.52 L936.25 420.76 L936.58 421.00 L937.20 421.24 L938.11 421.48 L939.30 421.71 L940.75 421.95 L942.44 422.19 L944.36 422.43 L946.48 422.67 L948.77 422.91 L951.21 423.15 L953.75 423.39 L956.38 423.62 L959.06 423.86 L961.75 424.10 L964.42 424.34 L967.04 424.58 L969.57 424.82 L971.98 425.06 L974.25 425.30 L976.34 425.54 L978.23 425.77 L979.89 426.01 L981.30 426.25 L982.45 426.49 L983.32 426.73 L983.89 426.97 L984.17 427.21 L984.15 427.45 L983.83 427.69 L983.21 427.92 L982.30 428.16 L981.11 428.40 L979.66 428.64 L977.97 428.88 L976.05 429.12 L973.93 429.36 L971.64 429.60 L969.21 429.84 L966.66 430.07 L964.04 430.31 L961.36 430.55 L958.67 430.79 L956.00 431.03 L953.38 431.27 L950.85 431.51 L948.43 431.75 L946.17 431.99 L944.07 432.22 L942.19 432.46 L940.52 432.70 L939.11 432.94 L937.96 433.18 L937.09 433.42 L936.51 433.66 L936.23 433.90 L936.25 434.13 L936.57 434.37 L937.19 434.61 L938.09 434.85 L939.28 435.09 L940.73 435.33 L942.42 435.57 L944.33 435.81 L946.45 436.05 L948.74 436.28 L951.17 436.52 L953.72 436.76 L956.34 437.00 L959.02 437.24 L961.71 437.48 L964.38 437.72 L967.00 437.96 L969.53 438.20 L971.95 438.43 L974.22 438.67 L976.31 438.91 L978.20 439.15 L979.86 439.39 L981.28 439.63 L982.43 439.87 L983.30 440.11 L983.89 440.35 L984.17 440.58 L984.15 440.82 L983.83 441.06 L983.22 441.30 L982.31 441.54 L981.13 441.78 L979.69 442.02 L978.00 442.26 L976.08 442.50 L973.97 442.73 L971.68 442.97 L969.25 443.21 L966.70 443.45 L964.08 443.69 L961.40 443.93 L958.71 444.17 L956.04 444.41 L953.42 444.65 L950.88 444.88 L948.47 445.12 L946.20 445.36 L944.10 445.60 L942.21 445.84 L940.55 446.08 L939.13 446.32 L937.97 446.56 L937.10 446.79 L936.52 447.03 L936.23 447.27 L936.25 447.51 L936.56 447.75 L937.18 447.99 L938.08 448.23 L939.26 448.47 L940.70 448.71 L942.39 448.94 L944.30 449.18 L946.42 449.42 L948.70 449.66 L951.13 449.90 L953.68 450.14 L956.30 450.38 L958.98 450.62 L961.67 450.86 L964.34 451.09 L966.96 451.33 L969.50 451.57 L971.92 451.81 L974.19 452.05 L976.28 452.29 L978.17 452.53 L979.84 452.77 L981.26 453.01 L982.42 453.24 L983.29 453.48 L983.88 453.72 L984.17 453.96 L984.16 454.20 L983.84 454.44 L983.23 454.68 L982.33 454.92 L981.15 455.16 L979.71 455.39 L978.02 455.63 L976.11 455.87 L974.00 456.11 L971.71 456.35 L969.29 456.59 L966.74 456.83 L964.12 457.07 L961.44 457.30 L958.75 457.54 L956.08 457.78 L953.46 458.02 L950.92 458.26 L948.50 458.50 L946.23 458.74 L944.13 458.98 L942.24 459.22 L940.57 459.45 L939.15 459.69 L937.99 459.93 L937.11 460.17 L936.52 460.41 L936.23 460.65 L936.24 460.89 L936.56 461.13 L937.16 461.37 L938.06 461.60 L939.24 461.84 L940.68 462.08 L942.36 462.32 L944.27 462.56 L946.38 462.80 L948.67 463.04 L951.10 463.28 L953.64 463.52 L956.26 463.75 L958.94 463.99 L961.63 464.23 L964.30 464.47 L966.92 464.71 L969.46 464.95 L971.88 465.19 L974.15 465.43 L976.25 465.67 L978.15 465.90 L979.82 466.14 L981.24 466.38 L982.40 466.62 L983.28 466.86 L983.87 467.10 L984.17 467.34 L984.16 467.58 L983.85 467.81 L983.24 468.05 L982.35 468.29 L981.17 468.53 L979.73 468.77 L978.05 469.01 L976.14 469.25 L974.03 469.49 L971.75 469.73 L969.32 469.96 L966.78 470.20 L964.15 470.44 L961.48 470.68 L958.79 470.92 L956.12 471.16 L953.49 471.40 L950.96 471.64 L948.54 471.88 L946.26 472.11 L944.16 472.35 L942.26 472.59 L940.59 472.83 L939.17 473.07 L938.00 473.31 L937.12 473.55 L936.53 473.79 L936.23 474.03 L936.24 474.26 L936.55 474.50 L937.15 474.74 L938.05 474.98 L939.22 475.22 L940.66 475.46 L942.34 475.70 L944.25 475.94 L946.35 476.18" fill="none" stroke="#231815" stroke-width="6.00" stroke-linejoin="round" stroke-linecap="round"/>
<path d="M979.43 294.88 L977.70 295.12 L975.75 295.35 L973.61 295.59 L971.29 295.83 L968.84 296.07 L966.28 296.31 L963.64 296.55 L960.96 296.79 L958.27 297.03 L955.61 297.26 L953.00 297.50 L950.48 297.74 L948.09 297.98 L945.84 298.22 L943.78 298.46 L941.93 298.70 L940.30 298.94 L938.92 299.18 L937.81 299.41 L936.99 299.65 L936.45 299.89 L936.21 300.13 L936.28 300.37 L936.64 300.61 L937.30 300.85 L938.25 301.09 L939.48 301.33 L940.96 301.56 L942.69 301.80 L944.63 302.04 L946.78 302.28 L949.09 302.52 L951.54 302.76 L954.10 303.00 L956.74 303.24 L959.42 303.48 L962.11 303.71 L964.77 303.95 L967.38 304.19 L969.90 304.43 L972.30 304.67 L974.54 304.91 L976.60 305.15 L978.46 305.39 L980.09 305.63 L981.47 305.86 L982.58 306.10 L983.41 306.34 L983.95 306.58 L984.19 306.82 L984.12 307.06 L983.76 307.30 L983.10 307.54 L982.16 307.78 L980.93 308.01 L979.45 308.25 L977.73 308.49 L975.78 308.73 L973.64 308.97 L971.33 309.21 L968.88 309.45 L966.32 309.69 L963.68 309.92 L961.00 310.16 L958.31 310.40 L955.65 310.64 L953.04 310.88 L950.52 311.12 L948.12 311.36 L945.88 311.60 L943.81 311.84 L941.95 312.07 L940.32 312.31 L938.94 312.55 L937.83 312.79 L937.00 313.03 L936.46 313.27 L936.21 313.51 L936.27 313.75 L936.63 313.99 L937.29 314.22 L938.23 314.46 L939.46 314.70 L940.94 314.94 L942.66 315.18 L944.60 315.42 L946.74 315.66 L949.05 315.90 L951.50 316.14 L954.06 316.37 L956.70 316.61 L959.38 316.85 L962.07 317.09 L964.73 317.33 L967.34 317.57 L969.86 317.81 L972.26 318.05 L974.51 318.29 L976.57 318.52 L978.44 318.76 L980.07 319.00 L981.45 319.24 L982.56 319.48 L983.40 319.72 L983.94 319.96 L984.19 320.20 L984.13 320.43 L983.77 320.67 L983.12 320.91 L982.17 321.15 L980.95 321.39 L979.47 321.63 L977.75 321.87 L975.81 322.11 L973.67 322.35 L971.36 322.58 L968.92 322.82 L966.36 323.06 L963.72 323.30 L961.04 323.54 L958.35 323.78 L955.69 324.02 L953.08 324.26 L950.56 324.50 L948.16 324.73 L945.91 324.97 L943.84 325.21 L941.98 325.45 L940.34 325.69 L938.96 325.93 L937.84 326.17 L937.01 326.41 L936.46 326.65 L936.22 326.88 L936.27 327.12 L936.63 327.36 L937.28 327.60 L938.22 327.84 L939.44 328.08 L940.91 328.32 L942.63 328.56 L944.57 328.80 L946.71 329.03 L949.02 329.27 L951.47 329.51 L954.02 329.75 L956.66 329.99 L959.34 330.23 L962.03 330.47 L964.69 330.71 L967.30 330.94 L969.83 331.18 L972.23 331.42 L974.48 331.66 L976.55 331.90 L978.41 332.14 L980.05 332.38 L981.43 332.62 L982.55 332.86 L983.39 333.09 L983.94 333.33 L984.18 333.57 L984.13 333.81 L983.78 334.05 L983.13 334.29 L982.19 334.53 L980.97 334.77 L979.50 335.01 L977.78 335.24 L975.84 335.48 L973.71 335.72 L971.40 335.96 L968.95 336.20 L966.40 336.44 L963.76 336.68 L961.08 336.92 L958.39 337.16 L955.73 337.39 L953.11 337.63 L950.59 337.87 L948.19 338.11 L945.94 338.35 L943.87 338.59 L942.00 338.83 L940.37 339.07 L938.98 339.31 L937.86 339.54 L937.02 339.78 L936.47 340.02 L936.22 340.26 L936.27 340.50 L936.62 340.74 L937.27 340.98 L938.20 341.22 L939.42 341.46 L940.89 341.69 L942.61 341.93 L944.54 342.17 L946.68 342.41 L948.98 342.65 L951.43 342.89 L953.98 343.13 L956.62 343.37 L959.30 343.60 L961.99 343.84 L964.65 344.08 L967.27 344.32 L969.79 344.56 L972.19 344.80 L974.44 345.04 L976.52 345.28 L978.38 345.52 L980.02 345.75 L981.41 345.99 L982.54 346.23 L983.38 346.47 L983.93 346.71 L984.18 346.95 L984.13 347.19 L983.78 347.43 L983.14 347.67 L982.20 347.90 L980.99 348.14 L979.52 348.38 L977.81 348.62 L975.87 348.86 L973.74 349.10 L971.43 349.34 L968.99 349.58 L966.43 349.82 L963.80 350.05 L961.12 350.29 L958.43 350.53 L955.76 350.77 L953.15 351.01 L950.63 351.25 L948.23 351.49 L945.97 351.73 L943.90 351.97 L942.03 352.20 L940.39 352.44 L939.00 352.68 L937.87 352.92 L937.03 353.16 L936.47 353.40 L936.22 353.64 L936.26 353.88 L936.61 354.11 L937.26 354.35 L938.19 354.59 L939.40 354.83 L940.87 355.07 L942.58 355.31 L944.51 355.55 L946.65 355.79 L948.95 356.03 L951.39 356.26 L953.95 356.50 L956.58 356.74 L959.26 356.98 L961.95 357.22 L964.62 357.46 L967.23 357.70 L969.75 357.94 L972.16 358.18 L974.41 358.41 L976.49 358.65 L978.36 358.89 L980.00 359.13 L981.39 359.37 L982.52 359.61 L983.37 359.85 L983.92 360.09 L984.18 360.33 L984.14 360.56 L983.79 360.80 L983.15 361.04 L982.22 361.28 L981.01 361.52 L979.55 361.76 L977.83 362.00 L975.90 362.24 L973.77 362.48 L971.47 362.71 L969.03 362.95 L966.47 363.19 L963.84 363.43 L961.16 363.67 L958.47 363.91 L955.80 364.15 L953.19 364.39 L950.67 364.63 L948.26 364.86 L946.00 365.10 L943.93 365.34 L942.06 365.58 L940.41 365.82 L939.02 366.06 L937.89 366.30 L937.04 366.54 L936.48 366.77 L936.22 367.01 L936.26 367.25 L936.60 367.49 L937.24 367.73 L938.17 367.97 L939.38 368.21 L940.84 368.45 L942.55 368.69 L944.48 368.92 L946.61 369.16 L948.91 369.40 L951.35 369.64 L953.91 369.88 L956.54 370.12 L959.22 370.36 L961.91 370.60 L964.58 370.84 L967.19 371.07 L969.72 371.31 L972.12 371.55 L974.38 371.79 L976.46 372.03 L978.33 372.27 L979.98 372.51 L981.38 372.75 L982.51 372.99 L983.36 373.22 L983.92 373.46 L984.18 373.70 L984.14 373.94 L983.80 374.18 L983.16 374.42 L982.24 374.66 L981.03 374.90 L979.57 375.14 L977.86 375.37 L975.93 375.61 L973.80 375.85 L971.50 376.09 L969.06 376.33 L966.51 376.57 L963.88 376.81 L961.20 377.05 L958.51 377.28 L955.84 377.52 L953.23 377.76 L950.70 378.00 L948.29 378.24 L946.04 378.48 L943.96 378.72 L942.08 378.96 L940.43 379.20 L939.03 379.43 L937.90 379.67 L937.05 379.91 L936.49 380.15 L936.22 380.39 L936.26 380.63 L936.60 380.87 L937.23 381.11 L938.16 381.35 L939.36 381.58 L940.82 381.82 L942.53 382.06 L944.45 382.30 L946.58 382.54 L948.88 382.78 L951.32 383.02 L953.87 383.26 L956.50 383.50 L959.18 383.73 L961.87 383.97 L964.54 384.21 L967.15 384.45 L969.68 384.69 L972.09 384.93 L974.35 385.17 L976.43 385.41 L978.31 385.65 L979.96 385.88 L981.36 386.12 L982.49 386.36 L983.35 386.60 L983.91 386.84 L984.18 387.08 L984.14 387.32 L983.81 387.56 L983.17 387.79 L982.25 388.03 L981.05 388.27 L979.59 388.51 L977.89 388.75 L975.96 388.99 L973.84 389.23 L971.54 389.47 L969.10 389.71 L966.55 389.94 L963.92 390.18 L961.24 390.42 L958.55 390.66 L955.88 390.90 L953.27 391.14 L950.74 391.38 L948.33 391.62 L946.07 391.86 L943.99 392.09 L942.11 392.33 L940.46 392.57 L939.05 392.81 L937.92 393.05 L937.06 393.29 L936.49 393.53 L936.22 393.77 L936.26 394.01 L936.59 394.24 L937.22 394.48 L938.14 394.72 L939.34 394.96 L940.80 395.20 L942.50 395.44 L944.42 395.68 L946.55 395.92 L948.84 396.16 L951.28 396.39 L953.83 396.63 L956.46 396.87 L959.14 397.11 L961.83 397.35 L964.50 397.59 L967.11 397.83 L969.64 398.07 L972.05 398.31 L974.32 398.54 L976.40 398.78 L978.28 399.02 L979.93 399.26 L981.34 399.50 L982.48 399.74 L983.34 399.98 L983.91 400.22 L984.18 400.45 L984.15 400.69 L983.81 400.93 L983.19 401.17 L982.27 401.41 L981.07 401.65 L979.62 401.89 L977.91 402.13 L975.99 402.37 L973.87 402.60 L971.57 402.84 L969.14 403.08 L966.59 403.32 L963.96 403.56 L961.28 403.80 L958.59 404.04 L955.92 404.28 L953.30 404.52 L950.77 404.75 L948.36 404.99 L946.10 405.23 L944.02 405.47 L942.13 405.71 L940.48 405.95 L939.07 406.19 L937.93 406.43 L937.07 406.67 L936.50 406.90 L936.22 407.14 L936.25 407.38 L936.58 407.62 L937.21 407.86 L938.12 408.10 L939.32 408.34 L940.77 408.58 L942.47 408.82 L944.39 409.05 L946.51 409.29 L948.81 409.53 L951.24 409.77 L953.79 410.01 L956.42 410.25 L959.10 410.49 L961.79 410.73 L964.46 410.96 L967.08 411.20 L969.61 411.44 L972.02 411.68 L974.28 411.92 L976.37 412.16 L978.25 412.40 L979.91 412.64 L981.32 412.88 L982.46 413.11 L983.33 413.35 L983.90 413.59 L984.17 413.83 L984.15 414.07 L983.82 414.31 L983.20 414.55 L982.28 414.79 L981.09 415.03 L979.64 415.26 L977.94 415.50 L976.02 415.74 L973.90 415.98 L971.61 416.22 L969.17 416.46 L966.63 416.70 L964.00 416.94 L961.32 417.18 L958.63 417.41 L955.96 417.65 L953.34 417.89 L950.81 418.13 L948.40 418.37 L946.13 418.61 L944.04 418.85 L942.16 419.09 L940.50 419.33 L939.09 419.56 L937.94 419.80 L937.08 420.04 L936.50 420.28 L936.23 420.52 L936.25 420.76 L936.58 421.00 L937.20 421.24 L938.11 421.48 L939.30 421.71 L940.75 421.95 L942.44 422.19 L944.36 422.43 L946.48 422.67 L948.77 422.91 L951.21 423.15 L953.75 423.39 L956.38 423.62 L959.06 423.86 L961.75 424.10 L964.42 424.34 L967.04 424.58 L969.57 424.82 L971.98 425.06 L974.25 425.30 L976.34 425.54 L978.23 425.77 L979.89 426.01 L981.30 426.25 L982.45 426.49 L983.32 426.73 L983.89 426.97 L984.17 427.21 L984.15 427.45 L983.83 427.69 L983.21 427.92 L982.30 428.16 L981.11 428.40 L979.66 428.64 L977.97 428.88 L976.05 429.12 L973.93 429.36 L971.64 429.60 L969.21 429.84 L966.66 430.07 L964.04 430.31 L961.36 430.55 L958.67 430.79 L956.00 431.03 L953.38 431.27 L950.85 431.51 L948.43 431.75 L946.17 431.99 L944.07 432.22 L942.19 432.46 L940.52 432.70 L939.11 432.94 L937.96 433.18 L937.09 433.42 L936.51 433.66 L936.23 433.90 L936.25 434.13 L936.57 434.37 L937.19 434.61 L938.09 434.85 L939.28 435.09 L940.73 435.33 L942.42 435.57 L944.33 435.81 L946.45 436.05 L948.74 436.28 L951.17 436.52 L953.72 436.76 L956.34 437.00 L959.02 437.24 L961.71 437.48 L964.38 437.72 L967.00 437.96 L969.53 438.20 L971.95 438.43 L974.22 438.67 L976.31 438.91 L978.20 439.15 L979.86 439.39 L981.28 439.63 L982.43 439.87 L983.30 440.11 L983.89 440.35 L984.17 440.58 L984.15 440.82 L983.83 441.06 L983.22 441.30 L982.31 441.54 L981.13 441.78 L979.69 442.02 L978.00 442.26 L976.08 442.50 L973.97 442.73 L971.68 442.97 L969.25 443.21 L966.70 443.45 L964.08 443.69 L961.40 443.93 L958.71 444.17 L956.04 444.41 L953.42 444.65 L950.88 444.88 L948.47 445.12 L946.20 445.36 L944.10 445.60 L942.21 445.84 L940.55 446.08 L939.13 446.32 L937.97 446.56 L937.10 446.79 L936.52 447.03 L936.23 447.27 L936.25 447.51 L936.56 447.75 L937.18 447.99 L938.08 448.23 L939.26 448.47 L940.70 448.71 L942.39 448.94 L944.30 449.18 L946.42 449.42 L948.70 449.66 L951.13 449.90 L953.68 450.14 L956.30 450.38 L958.98 450.62 L961.67 450.86 L964.34 451.09 L966.96 451.33 L969.50 451.57 L971.92 451.81 L974.19 452.05 L976.28 452.29 L978.17 452.53 L979.84 452.77 L981.26 453.01 L982.42 453.24 L983.29 453.48 L983.88 453.72 L984.17 453.96 L984.16 454.20 L983.84 454.44 L983.23 454.68 L982.33 454.92 L981.15 455.16 L979.71 455.39 L978.02 455.63 L976.11 455.87 L974.00 456.11 L971.71 456.35 L969.29 456.59 L966.74 456.83 L964.12 457.07 L961.44 457.30 L958.75 457.54 L956.08 457.78 L953.46 458.02 L950.92 458.26 L948.50 458.50 L946.23 458.74 L944.13 458.98 L942.24 459.22 L940.57 459.45 L939.15 459.69 L937.99 459.93 L937.11 460.17 L936.52 460.41 L936.23 460.65 L936.24 460.89 L936.56 461.13 L937.16 461.37 L938.06 461.60 L939.24 461.84 L940.68 462.08 L942.36 462.32 L944.27 462.56 L946.38 462.80 L948.67 463.04 L951.10 463.28 L953.64 463.52 L956.26 463.75 L958.94 463.99 L961.63 464.23 L964.30 464.47 L966.92 464.71 L969.46 464.95 L971.88 465.19 L974.15 465.43 L976.25 465.67 L978.15 465.90 L979.82 466.14 L981.24 466.38 L982.40 466.62 L983.28 466.86 L983.87 467.10 L984.17 467.34 L984.16 467.58 L983.85 467.81 L983.24 468.05 L982.35 468.29 L981.17 468.53 L979.73 468.77 L978.05 469.01 L976.14 469.25 L974.03 469.49 L971.75 469.73 L969.32 469.96 L966.78 470.20 L964.15 470.44 L961.48 470.68 L958.79 470.92 L956.12 471.16 L953.49 471.40 L950.96 471.64 L948.54 471.88 L946.26 472.11 L944.16 472.35 L942.26 472.59 L940.59 472.83 L939.17 473.07 L938.00 473.31 L937.12 473.55 L936.53 473.79 L936.23 474.03 L936.24 474.26 L936.55 474.50 L937.15 474.74 L938.05 474.98 L939.22 475.22 L940.66 475.46 L942.34 475.70 L944.25 475.94 L946.35 476.18" fill="none" stroke="#fff" stroke-width="4.10" stroke-linejoin="round"/>
<path d="M955.4 306.80 Q955.4 313.50 960.3 313.50 Q965.2 313.50 965.2 306.80" fill="#fff" stroke="#231815" stroke-width="1.10" />
<line x1="958.70" y1="306.80" x2="958.70" y2="313.20" stroke="#231815" stroke-width="0.90" />
<line x1="961.90" y1="306.80" x2="961.90" y2="313.20" stroke="#231815" stroke-width="0.90" />
<rect x="955.40" y="320.18" width="9.80" height="6.40" rx="0.00" fill="#fff" stroke="#231815" stroke-width="1.10"/>
<line x1="960.30" y1="320.18" x2="960.30" y2="326.58" stroke="#231815" stroke-width="1.00" />
<rect x="959" y="323.98" width="3" height="1.6" fill="#231815"/>
<path d="M955.4 333.56 Q955.4 340.26 960.3 340.26 Q965.2 340.26 965.2 333.56" fill="#fff" stroke="#231815" stroke-width="1.10" />
<line x1="958.70" y1="333.56" x2="958.70" y2="339.96" stroke="#231815" stroke-width="0.90" />
<line x1="961.90" y1="333.56" x2="961.90" y2="339.96" stroke="#231815" stroke-width="0.90" />
<rect x="955.40" y="346.94" width="9.80" height="6.40" rx="0.00" fill="#fff" stroke="#231815" stroke-width="1.10"/>
<line x1="960.30" y1="346.94" x2="960.30" y2="353.34" stroke="#231815" stroke-width="1.00" />
<rect x="959" y="350.74" width="3" height="1.6" fill="#231815"/>
<path d="M955.4 360.32 Q955.4 367.02 960.3 367.02 Q965.2 367.02 965.2 360.32" fill="#fff" stroke="#231815" stroke-width="1.10" />
<line x1="958.70" y1="360.32" x2="958.70" y2="366.72" stroke="#231815" stroke-width="0.90" />
<line x1="961.90" y1="360.32" x2="961.90" y2="366.72" stroke="#231815" stroke-width="0.90" />
<rect x="955.40" y="373.70" width="9.80" height="6.40" rx="0.00" fill="#fff" stroke="#231815" stroke-width="1.10"/>
<line x1="960.30" y1="373.70" x2="960.30" y2="380.10" stroke="#231815" stroke-width="1.00" />
<rect x="959" y="377.50" width="3" height="1.6" fill="#231815"/>
<path d="M955.4 387.08 Q955.4 393.78 960.3 393.78 Q965.2 393.78 965.2 387.08" fill="#fff" stroke="#231815" stroke-width="1.10" />
<line x1="958.70" y1="387.08" x2="958.70" y2="393.48" stroke="#231815" stroke-width="0.90" />
<line x1="961.90" y1="387.08" x2="961.90" y2="393.48" stroke="#231815" stroke-width="0.90" />
<rect x="955.40" y="400.46" width="9.80" height="6.40" rx="0.00" fill="#fff" stroke="#231815" stroke-width="1.10"/>
<line x1="960.30" y1="400.46" x2="960.30" y2="406.86" stroke="#231815" stroke-width="1.00" />
<rect x="959" y="404.26" width="3" height="1.6" fill="#231815"/>
<path d="M955.4 413.84 Q955.4 420.54 960.3 420.54 Q965.2 420.54 965.2 413.84" fill="#fff" stroke="#231815" stroke-width="1.10" />
<line x1="958.70" y1="413.84" x2="958.70" y2="420.24" stroke="#231815" stroke-width="0.90" />
<line x1="961.90" y1="413.84" x2="961.90" y2="420.24" stroke="#231815" stroke-width="0.90" />
<rect x="955.40" y="427.22" width="9.80" height="6.40" rx="0.00" fill="#fff" stroke="#231815" stroke-width="1.10"/>
<line x1="960.30" y1="427.22" x2="960.30" y2="433.62" stroke="#231815" stroke-width="1.00" />
<rect x="959" y="431.02" width="3" height="1.6" fill="#231815"/>
<path d="M955.4 440.60 Q955.4 447.30 960.3 447.30 Q965.2 447.30 965.2 440.60" fill="#fff" stroke="#231815" stroke-width="1.10" />
<line x1="958.70" y1="440.60" x2="958.70" y2="447.00" stroke="#231815" stroke-width="0.90" />
<line x1="961.90" y1="440.60" x2="961.90" y2="447.00" stroke="#231815" stroke-width="0.90" />
<rect x="955.40" y="453.98" width="9.80" height="6.40" rx="0.00" fill="#fff" stroke="#231815" stroke-width="1.10"/>
<line x1="960.30" y1="453.98" x2="960.30" y2="460.38" stroke="#231815" stroke-width="1.00" />
<rect x="959" y="457.78" width="3" height="1.6" fill="#231815"/>
<path d="M955.4 467.36 Q955.4 474.06 960.3 474.06 Q965.2 474.06 965.2 467.36" fill="#fff" stroke="#231815" stroke-width="1.10" />
<line x1="958.70" y1="467.36" x2="958.70" y2="473.76" stroke="#231815" stroke-width="0.90" />
<line x1="961.90" y1="467.36" x2="961.90" y2="473.76" stroke="#231815" stroke-width="0.90" />
<path d="M936.20 300.20 L936.35 300.44 L936.80 300.68 L937.55 300.92 L938.58 301.16 L939.88 301.39 L941.44 301.63 L943.23 301.87 L945.24 302.11 L947.43 302.35 L949.79 302.59 L952.27 302.83 L954.86 303.07 L957.51 303.31 L960.20 303.55 L962.89 303.78 L965.54 304.02 L968.13 304.26 L970.61 304.50 L972.97 304.74 L975.16 304.98 L977.17 305.22 L978.96 305.46 L980.52 305.70 L981.82 305.93 L982.85 306.17 L983.60 306.41 L984.05 306.65 L984.20 306.89" fill="none" stroke="#231815" stroke-width="6.00"/>
<path d="M936.20 300.20 L936.35 300.44 L936.80 300.68 L937.55 300.92 L938.58 301.16 L939.88 301.39 L941.44 301.63 L943.23 301.87 L945.24 302.11 L947.43 302.35 L949.79 302.59 L952.27 302.83 L954.86 303.07 L957.51 303.31 L960.20 303.55 L962.89 303.78 L965.54 304.02 L968.13 304.26 L970.61 304.50 L972.97 304.74 L975.16 304.98 L977.17 305.22 L978.96 305.46 L980.52 305.70 L981.82 305.93 L982.85 306.17 L983.60 306.41 L984.05 306.65 L984.20 306.89" fill="none" stroke="#fff" stroke-width="4.10"/>
<path d="M936.20 313.58 L936.35 313.82 L936.80 314.06 L937.55 314.30 L938.58 314.54 L939.88 314.77 L941.44 315.01 L943.23 315.25 L945.24 315.49 L947.43 315.73 L949.79 315.97 L952.27 316.21 L954.86 316.45 L957.51 316.69 L960.20 316.93 L962.89 317.16 L965.54 317.40 L968.13 317.64 L970.61 317.88 L972.97 318.12 L975.16 318.36 L977.17 318.60 L978.96 318.84 L980.52 319.08 L981.82 319.31 L982.85 319.55 L983.60 319.79 L984.05 320.03 L984.20 320.27" fill="none" stroke="#231815" stroke-width="6.00"/>
<path d="M936.20 313.58 L936.35 313.82 L936.80 314.06 L937.55 314.30 L938.58 314.54 L939.88 314.77 L941.44 315.01 L943.23 315.25 L945.24 315.49 L947.43 315.73 L949.79 315.97 L952.27 316.21 L954.86 316.45 L957.51 316.69 L960.20 316.93 L962.89 317.16 L965.54 317.40 L968.13 317.64 L970.61 317.88 L972.97 318.12 L975.16 318.36 L977.17 318.60 L978.96 318.84 L980.52 319.08 L981.82 319.31 L982.85 319.55 L983.60 319.79 L984.05 320.03 L984.20 320.27" fill="none" stroke="#fff" stroke-width="4.10"/>
<path d="M936.20 326.96 L936.35 327.20 L936.80 327.44 L937.55 327.68 L938.58 327.92 L939.88 328.15 L941.44 328.39 L943.23 328.63 L945.24 328.87 L947.43 329.11 L949.79 329.35 L952.27 329.59 L954.86 329.83 L957.51 330.07 L960.20 330.31 L962.89 330.54 L965.54 330.78 L968.13 331.02 L970.61 331.26 L972.97 331.50 L975.16 331.74 L977.17 331.98 L978.96 332.22 L980.52 332.46 L981.82 332.69 L982.85 332.93 L983.60 333.17 L984.05 333.41 L984.20 333.65" fill="none" stroke="#231815" stroke-width="6.00"/>
<path d="M936.20 326.96 L936.35 327.20 L936.80 327.44 L937.55 327.68 L938.58 327.92 L939.88 328.15 L941.44 328.39 L943.23 328.63 L945.24 328.87 L947.43 329.11 L949.79 329.35 L952.27 329.59 L954.86 329.83 L957.51 330.07 L960.20 330.31 L962.89 330.54 L965.54 330.78 L968.13 331.02 L970.61 331.26 L972.97 331.50 L975.16 331.74 L977.17 331.98 L978.96 332.22 L980.52 332.46 L981.82 332.69 L982.85 332.93 L983.60 333.17 L984.05 333.41 L984.20 333.65" fill="none" stroke="#fff" stroke-width="4.10"/>
<path d="M936.20 340.34 L936.35 340.58 L936.80 340.82 L937.55 341.06 L938.58 341.30 L939.88 341.53 L941.44 341.77 L943.23 342.01 L945.24 342.25 L947.43 342.49 L949.79 342.73 L952.27 342.97 L954.86 343.21 L957.51 343.45 L960.20 343.69 L962.89 343.92 L965.54 344.16 L968.13 344.40 L970.61 344.64 L972.97 344.88 L975.16 345.12 L977.17 345.36 L978.96 345.60 L980.52 345.84 L981.82 346.07 L982.85 346.31 L983.60 346.55 L984.05 346.79 L984.20 347.03" fill="none" stroke="#231815" stroke-width="6.00"/>
<path d="M936.20 340.34 L936.35 340.58 L936.80 340.82 L937.55 341.06 L938.58 341.30 L939.88 341.53 L941.44 341.77 L943.23 342.01 L945.24 342.25 L947.43 342.49 L949.79 342.73 L952.27 342.97 L954.86 343.21 L957.51 343.45 L960.20 343.69 L962.89 343.92 L965.54 344.16 L968.13 344.40 L970.61 344.64 L972.97 344.88 L975.16 345.12 L977.17 345.36 L978.96 345.60 L980.52 345.84 L981.82 346.07 L982.85 346.31 L983.60 346.55 L984.05 346.79 L984.20 347.03" fill="none" stroke="#fff" stroke-width="4.10"/>
<path d="M936.20 353.72 L936.35 353.96 L936.80 354.20 L937.55 354.44 L938.58 354.68 L939.88 354.91 L941.44 355.15 L943.23 355.39 L945.24 355.63 L947.43 355.87 L949.79 356.11 L952.27 356.35 L954.86 356.59 L957.51 356.83 L960.20 357.06 L962.89 357.30 L965.54 357.54 L968.13 357.78 L970.61 358.02 L972.97 358.26 L975.16 358.50 L977.17 358.74 L978.96 358.98 L980.52 359.22 L981.82 359.45 L982.85 359.69 L983.60 359.93 L984.05 360.17 L984.20 360.41" fill="none" stroke="#231815" stroke-width="6.00"/>
<path d="M936.20 353.72 L936.35 353.96 L936.80 354.20 L937.55 354.44 L938.58 354.68 L939.88 354.91 L941.44 355.15 L943.23 355.39 L945.24 355.63 L947.43 355.87 L949.79 356.11 L952.27 356.35 L954.86 356.59 L957.51 356.83 L960.20 357.06 L962.89 357.30 L965.54 357.54 L968.13 357.78 L970.61 358.02 L972.97 358.26 L975.16 358.50 L977.17 358.74 L978.96 358.98 L980.52 359.22 L981.82 359.45 L982.85 359.69 L983.60 359.93 L984.05 360.17 L984.20 360.41" fill="none" stroke="#fff" stroke-width="4.10"/>
<path d="M936.20 367.10 L936.35 367.34 L936.80 367.58 L937.55 367.82 L938.58 368.06 L939.88 368.29 L941.44 368.53 L943.23 368.77 L945.24 369.01 L947.43 369.25 L949.79 369.49 L952.27 369.73 L954.86 369.97 L957.51 370.21 L960.20 370.44 L962.89 370.68 L965.54 370.92 L968.13 371.16 L970.61 371.40 L972.97 371.64 L975.16 371.88 L977.17 372.12 L978.96 372.36 L980.52 372.60 L981.82 372.83 L982.85 373.07 L983.60 373.31 L984.05 373.55 L984.20 373.79" fill="none" stroke="#231815" stroke-width="6.00"/>
<path d="M936.20 367.10 L936.35 367.34 L936.80 367.58 L937.55 367.82 L938.58 368.06 L939.88 368.29 L941.44 368.53 L943.23 368.77 L945.24 369.01 L947.43 369.25 L949.79 369.49 L952.27 369.73 L954.86 369.97 L957.51 370.21 L960.20 370.44 L962.89 370.68 L965.54 370.92 L968.13 371.16 L970.61 371.40 L972.97 371.64 L975.16 371.88 L977.17 372.12 L978.96 372.36 L980.52 372.60 L981.82 372.83 L982.85 373.07 L983.60 373.31 L984.05 373.55 L984.20 373.79" fill="none" stroke="#fff" stroke-width="4.10"/>
<path d="M936.20 380.48 L936.35 380.72 L936.80 380.96 L937.55 381.20 L938.58 381.44 L939.88 381.67 L941.44 381.91 L943.23 382.15 L945.24 382.39 L947.43 382.63 L949.79 382.87 L952.27 383.11 L954.86 383.35 L957.51 383.59 L960.20 383.82 L962.89 384.06 L965.54 384.30 L968.13 384.54 L970.61 384.78 L972.97 385.02 L975.16 385.26 L977.17 385.50 L978.96 385.74 L980.52 385.98 L981.82 386.21 L982.85 386.45 L983.60 386.69 L984.05 386.93 L984.20 387.17" fill="none" stroke="#231815" stroke-width="6.00"/>
<path d="M936.20 380.48 L936.35 380.72 L936.80 380.96 L937.55 381.20 L938.58 381.44 L939.88 381.67 L941.44 381.91 L943.23 382.15 L945.24 382.39 L947.43 382.63 L949.79 382.87 L952.27 383.11 L954.86 383.35 L957.51 383.59 L960.20 383.82 L962.89 384.06 L965.54 384.30 L968.13 384.54 L970.61 384.78 L972.97 385.02 L975.16 385.26 L977.17 385.50 L978.96 385.74 L980.52 385.98 L981.82 386.21 L982.85 386.45 L983.60 386.69 L984.05 386.93 L984.20 387.17" fill="none" stroke="#fff" stroke-width="4.10"/>
<path d="M936.20 393.86 L936.35 394.10 L936.80 394.34 L937.55 394.58 L938.58 394.82 L939.88 395.05 L941.44 395.29 L943.23 395.53 L945.24 395.77 L947.43 396.01 L949.79 396.25 L952.27 396.49 L954.86 396.73 L957.51 396.97 L960.20 397.20 L962.89 397.44 L965.54 397.68 L968.13 397.92 L970.61 398.16 L972.97 398.40 L975.16 398.64 L977.17 398.88 L978.96 399.12 L980.52 399.36 L981.82 399.59 L982.85 399.83 L983.60 400.07 L984.05 400.31 L984.20 400.55" fill="none" stroke="#231815" stroke-width="6.00"/>
<path d="M936.20 393.86 L936.35 394.10 L936.80 394.34 L937.55 394.58 L938.58 394.82 L939.88 395.05 L941.44 395.29 L943.23 395.53 L945.24 395.77 L947.43 396.01 L949.79 396.25 L952.27 396.49 L954.86 396.73 L957.51 396.97 L960.20 397.20 L962.89 397.44 L965.54 397.68 L968.13 397.92 L970.61 398.16 L972.97 398.40 L975.16 398.64 L977.17 398.88 L978.96 399.12 L980.52 399.36 L981.82 399.59 L982.85 399.83 L983.60 400.07 L984.05 400.31 L984.20 400.55" fill="none" stroke="#fff" stroke-width="4.10"/>
<path d="M936.20 407.24 L936.35 407.48 L936.80 407.72 L937.55 407.96 L938.58 408.20 L939.88 408.43 L941.44 408.67 L943.23 408.91 L945.24 409.15 L947.43 409.39 L949.79 409.63 L952.27 409.87 L954.86 410.11 L957.51 410.35 L960.20 410.58 L962.89 410.82 L965.54 411.06 L968.13 411.30 L970.61 411.54 L972.97 411.78 L975.16 412.02 L977.17 412.26 L978.96 412.50 L980.52 412.74 L981.82 412.97 L982.85 413.21 L983.60 413.45 L984.05 413.69 L984.20 413.93" fill="none" stroke="#231815" stroke-width="6.00"/>
<path d="M936.20 407.24 L936.35 407.48 L936.80 407.72 L937.55 407.96 L938.58 408.20 L939.88 408.43 L941.44 408.67 L943.23 408.91 L945.24 409.15 L947.43 409.39 L949.79 409.63 L952.27 409.87 L954.86 410.11 L957.51 410.35 L960.20 410.58 L962.89 410.82 L965.54 411.06 L968.13 411.30 L970.61 411.54 L972.97 411.78 L975.16 412.02 L977.17 412.26 L978.96 412.50 L980.52 412.74 L981.82 412.97 L982.85 413.21 L983.60 413.45 L984.05 413.69 L984.20 413.93" fill="none" stroke="#fff" stroke-width="4.10"/>
<path d="M936.20 420.62 L936.35 420.86 L936.80 421.10 L937.55 421.34 L938.58 421.58 L939.88 421.81 L941.44 422.05 L943.23 422.29 L945.24 422.53 L947.43 422.77 L949.79 423.01 L952.27 423.25 L954.86 423.49 L957.51 423.73 L960.20 423.97 L962.89 424.20 L965.54 424.44 L968.13 424.68 L970.61 424.92 L972.97 425.16 L975.16 425.40 L977.17 425.64 L978.96 425.88 L980.52 426.12 L981.82 426.35 L982.85 426.59 L983.60 426.83 L984.05 427.07 L984.20 427.31" fill="none" stroke="#231815" stroke-width="6.00"/>
<path d="M936.20 420.62 L936.35 420.86 L936.80 421.10 L937.55 421.34 L938.58 421.58 L939.88 421.81 L941.44 422.05 L943.23 422.29 L945.24 422.53 L947.43 422.77 L949.79 423.01 L952.27 423.25 L954.86 423.49 L957.51 423.73 L960.20 423.97 L962.89 424.20 L965.54 424.44 L968.13 424.68 L970.61 424.92 L972.97 425.16 L975.16 425.40 L977.17 425.64 L978.96 425.88 L980.52 426.12 L981.82 426.35 L982.85 426.59 L983.60 426.83 L984.05 427.07 L984.20 427.31" fill="none" stroke="#fff" stroke-width="4.10"/>
<path d="M936.20 434.00 L936.35 434.24 L936.80 434.48 L937.55 434.72 L938.58 434.96 L939.88 435.19 L941.44 435.43 L943.23 435.67 L945.24 435.91 L947.43 436.15 L949.79 436.39 L952.27 436.63 L954.86 436.87 L957.51 437.11 L960.20 437.35 L962.89 437.58 L965.54 437.82 L968.13 438.06 L970.61 438.30 L972.97 438.54 L975.16 438.78 L977.17 439.02 L978.96 439.26 L980.52 439.50 L981.82 439.73 L982.85 439.97 L983.60 440.21 L984.05 440.45 L984.20 440.69" fill="none" stroke="#231815" stroke-width="6.00"/>
<path d="M936.20 434.00 L936.35 434.24 L936.80 434.48 L937.55 434.72 L938.58 434.96 L939.88 435.19 L941.44 435.43 L943.23 435.67 L945.24 435.91 L947.43 436.15 L949.79 436.39 L952.27 436.63 L954.86 436.87 L957.51 437.11 L960.20 437.35 L962.89 437.58 L965.54 437.82 L968.13 438.06 L970.61 438.30 L972.97 438.54 L975.16 438.78 L977.17 439.02 L978.96 439.26 L980.52 439.50 L981.82 439.73 L982.85 439.97 L983.60 440.21 L984.05 440.45 L984.20 440.69" fill="none" stroke="#fff" stroke-width="4.10"/>
<path d="M936.20 447.38 L936.35 447.62 L936.80 447.86 L937.55 448.10 L938.58 448.34 L939.88 448.57 L941.44 448.81 L943.23 449.05 L945.24 449.29 L947.43 449.53 L949.79 449.77 L952.27 450.01 L954.86 450.25 L957.51 450.49 L960.20 450.72 L962.89 450.96 L965.54 451.20 L968.13 451.44 L970.61 451.68 L972.97 451.92 L975.16 452.16 L977.17 452.40 L978.96 452.64 L980.52 452.88 L981.82 453.11 L982.85 453.35 L983.60 453.59 L984.05 453.83 L984.20 454.07" fill="none" stroke="#231815" stroke-width="6.00"/>
<path d="M936.20 447.38 L936.35 447.62 L936.80 447.86 L937.55 448.10 L938.58 448.34 L939.88 448.57 L941.44 448.81 L943.23 449.05 L945.24 449.29 L947.43 449.53 L949.79 449.77 L952.27 450.01 L954.86 450.25 L957.51 450.49 L960.20 450.72 L962.89 450.96 L965.54 451.20 L968.13 451.44 L970.61 451.68 L972.97 451.92 L975.16 452.16 L977.17 452.40 L978.96 452.64 L980.52 452.88 L981.82 453.11 L982.85 453.35 L983.60 453.59 L984.05 453.83 L984.20 454.07" fill="none" stroke="#fff" stroke-width="4.10"/>
<path d="M936.20 460.76 L936.35 461.00 L936.80 461.24 L937.55 461.48 L938.58 461.72 L939.88 461.95 L941.44 462.19 L943.23 462.43 L945.24 462.67 L947.43 462.91 L949.79 463.15 L952.27 463.39 L954.86 463.63 L957.51 463.87 L960.20 464.11 L962.89 464.34 L965.54 464.58 L968.13 464.82 L970.61 465.06 L972.97 465.30 L975.16 465.54 L977.17 465.78 L978.96 466.02 L980.52 466.26 L981.82 466.49 L982.85 466.73 L983.60 466.97 L984.05 467.21 L984.20 467.45" fill="none" stroke="#231815" stroke-width="6.00"/>
<path d="M936.20 460.76 L936.35 461.00 L936.80 461.24 L937.55 461.48 L938.58 461.72 L939.88 461.95 L941.44 462.19 L943.23 462.43 L945.24 462.67 L947.43 462.91 L949.79 463.15 L952.27 463.39 L954.86 463.63 L957.51 463.87 L960.20 464.11 L962.89 464.34 L965.54 464.58 L968.13 464.82 L970.61 465.06 L972.97 465.30 L975.16 465.54 L977.17 465.78 L978.96 466.02 L980.52 466.26 L981.82 466.49 L982.85 466.73 L983.60 466.97 L984.05 467.21 L984.20 467.45" fill="none" stroke="#fff" stroke-width="4.10"/>
<path d="M936.20 474.14 L936.21 474.21 L936.26 474.29 L936.33 474.36 L936.42 474.43 L936.55 474.50 L936.70 474.58 L936.88 474.65 L937.09 474.72 L937.32 474.79 L937.58 474.87 L937.87 474.94 L938.19 475.01 L938.52 475.08 L938.89 475.16 L939.28 475.23 L939.69 475.30 L940.13 475.38 L940.59 475.45 L941.07 475.52 L941.58 475.59 L942.11 475.67 L942.65 475.74 L943.22 475.81 L943.81 475.88 L944.42 475.96 L945.05 476.03 L945.69 476.10 L946.35 476.18" fill="none" stroke="#231815" stroke-width="6.00"/>
<path d="M936.20 474.14 L936.21 474.21 L936.26 474.29 L936.33 474.36 L936.42 474.43 L936.55 474.50 L936.70 474.58 L936.88 474.65 L937.09 474.72 L937.32 474.79 L937.58 474.87 L937.87 474.94 L938.19 475.01 L938.52 475.08 L938.89 475.16 L939.28 475.23 L939.69 475.30 L940.13 475.38 L940.59 475.45 L941.07 475.52 L941.58 475.59 L942.11 475.67 L942.65 475.74 L943.22 475.81 L943.81 475.88 L944.42 475.96 L945.05 476.03 L945.69 476.10 L946.35 476.18" fill="none" stroke="#fff" stroke-width="4.10"/>
<rect x="935.60" y="269.00" width="18.60" height="5.50" rx="1.00" fill="#fff" stroke="#231815" stroke-width="1.50"/>
<rect x="937.50" y="274.50" width="15.00" height="6.50" rx="0.00" fill="#fff" stroke="#231815" stroke-width="1.20"/>
<rect x="936.60" y="281.00" width="17.40" height="8.40" rx="0.00" fill="#fff" stroke="#231815" stroke-width="1.50"/>
<path d="M936.6 283 Q932.5 284.5 932.5 286.5 Q932.5 288.5 936.6 289.4" fill="#fff" stroke="#231815" stroke-width="1.10" />
<rect x="938.40" y="289.40" width="13.40" height="5.20" rx="1.50" fill="#fff" stroke="#231815" stroke-width="1.30"/>
<rect x="955.00" y="269.00" width="8.20" height="18.00" rx="0.00" fill="#fff" stroke="#231815" stroke-width="1.20"/>
<rect x="955.3" y="281.3" width="7.6" height="2.6" fill="#231815"/>
<path d="M976 269.6 L1043.3 269.6 L1043.3 392 Q1043.3 398.7 1036.5 398.7 L1004 398.7 Q999 398.7 997.5 394 L976 287 Z" fill="#fff" stroke="#231815" stroke-width="1.40" />
<path d="M979.5 287 L1000.5 392.5 Q1001.5 395.7 1005 395.7 L1035.5 395.7 Q1040.3 395.7 1040.3 390.5 L1040.3 272" fill="none" stroke="#231815" stroke-width="0.90" />
<line x1="1036.80" y1="272.00" x2="1036.80" y2="388.00" stroke="#231815" stroke-width="0.80" />
<line x1="976.00" y1="271.80" x2="1043.00" y2="271.80" stroke="#231815" stroke-width="1.00" />
<line x1="976.00" y1="269.60" x2="1043.30" y2="269.60" stroke="#231815" stroke-width="1.10" />
<rect x="964.80" y="269.00" width="13.80" height="20.00" rx="0.00" fill="#fff" stroke="#231815" stroke-width="1.20"/>
<circle cx="972.10" cy="280.80" r="4.40" fill="#fff" stroke="#231815" stroke-width="1.40"/>
<circle cx="972.10" cy="280.80" r="1.80" fill="#fff" stroke="#231815" stroke-width="1.00"/>
<path d="M935.2 476.2 L987.2 476.2 L995.5 532.8 L927.8 532.8 Z" fill="#fff" stroke="#231815" stroke-width="1.40" />
<line x1="957.50" y1="476.20" x2="957.00" y2="532.80" stroke="#231815" stroke-width="1.00" />
<line x1="927.80" y1="532.80" x2="995.50" y2="532.80" stroke="#231815" stroke-width="2.10" />
<path d="M927.8 532.8 L925.5 550.8 L998 550.8 L995.5 532.8" fill="#fff" stroke="#231815" stroke-width="1.30" />
<line x1="957.00" y1="532.80" x2="956.80" y2="550.80" stroke="#231815" stroke-width="1.00" />
<line x1="927.80" y1="532.80" x2="995.50" y2="532.80" stroke="#231815" stroke-width="1.50" />
<path d="M925.5 551 C921 562 921 580 924.5 589.4 L999.5 589.4 C1003.2 580 1003.2 562 998 551 Z" fill="#fff" stroke="#231815" stroke-width="1.40" />
<line x1="923.50" y1="551.00" x2="1000.00" y2="551.00" stroke="#231815" stroke-width="2.90" />
<line x1="923.50" y1="589.40" x2="1000.00" y2="589.40" stroke="#231815" stroke-width="2.90" />
<path d="M934.5 552 Q932 570 934.5 588" fill="none" stroke="#231815" stroke-width="1.00" />
<path d="M957 552 Q955.5 570 958 600" fill="none" stroke="#231815" stroke-width="1.00" />
<path d="M992.5 552 Q995 570 992.5 588" fill="none" stroke="#231815" stroke-width="1.00" />
<line x1="978.50" y1="562.00" x2="978.50" y2="582.00" stroke="#231815" stroke-width="0.90" />
<path d="M987.6 480 Q983.8 489 988.4 501 Q986.8 490 987.6 480 Z" fill="#231815" stroke="#231815" stroke-width="1.2"/>
<ellipse cx="970.5" cy="481.3" rx="5.0" ry="2.9" fill="#fff" stroke="#231815" stroke-width="1.9" transform="rotate(-4 970.5 481.3)"/>
<ellipse cx="971.8" cy="524.6" rx="6.4" ry="2.9" fill="#fff" stroke="#231815" stroke-width="1.9" transform="rotate(-4 971.8 524.6)"/>
<ellipse cx="975.5" cy="556.6" rx="8.3" ry="3.1" fill="#fff" stroke="#231815" stroke-width="1.9" transform="rotate(-4 975.5 556.6)"/>
<ellipse cx="975.5" cy="583.4" rx="8.3" ry="3.1" fill="#fff" stroke="#231815" stroke-width="1.9" transform="rotate(-4 975.5 583.4)"/>
<rect x="915.2" y="531" width="8.2" height="19.5" rx="2.6" fill="#231815"/>
<circle cx="919.3" cy="535.0" r="0.45" fill="#fff"/>
<circle cx="919.3" cy="538.5" r="0.45" fill="#fff"/>
<circle cx="919.3" cy="542.0" r="0.45" fill="#fff"/>
<circle cx="919.3" cy="545.5" r="0.45" fill="#fff"/>
<path d="M923.4 533 L927.8 536.5 L924.2 548.5" fill="none" stroke="#231815" stroke-width="1.00" />
<path d="M925.5 534 L927.6 545" fill="none" stroke="#231815" stroke-width="0.90" />
<path d="M924.5 590 C930 597 940 601 946 601.3 L980 601.3 C986 601 995 597 999.5 590" fill="none" stroke="#231815" stroke-width="1.40" />
<line x1="944.50" y1="601.30" x2="979.80" y2="601.30" stroke="#231815" stroke-width="1.30" />
<path d="M947.3 603 L976 603 L976 608 Q972 614 975 620.8 L948 620.8 Q951 614 947.3 608 Z" fill="#fff" stroke="#231815" stroke-width="1.30" />
<rect x="973.00" y="605.00" width="3.00" height="6.00" rx="0.00" fill="#fff" stroke="#231815" stroke-width="0.90"/>
<path d="M948 620.8 L975 620.8 L975.5 633.8 Q977 655 974.8 677.4 L948.5 677.4 Q946 655 946.5 633.8 Z" fill="#fff" stroke="#231815" stroke-width="1.30" />
<rect x="948" y="621.6" width="27" height="12.6" fill="#231815"/>
<line x1="948.00" y1="627.80" x2="975.00" y2="627.80" stroke="#666" stroke-width="0.50" />
<rect x="948.5" y="677.4" width="26.3" height="12" fill="#231815"/>
<line x1="948.50" y1="681.50" x2="974.80" y2="681.50" stroke="#fff" stroke-width="0.90" />
<line x1="948.50" y1="685.00" x2="974.80" y2="685.00" stroke="#bbb" stroke-width="0.70" />
<path d="M949.5 689.4 Q950 694 945.5 697 L977 697 Q973 694 973.8 689.4" fill="#fff" stroke="#231815" stroke-width="1.30" />
<rect x="945.50" y="697.00" width="31.50" height="3.60" rx="1.20" fill="#fff" stroke="#231815" stroke-width="1.50"/>
<rect x="955.30" y="700.60" width="11.50" height="6.40" rx="0.00" fill="#fff" stroke="#231815" stroke-width="1.10"/>
<rect x="952.00" y="706.00" width="18.50" height="3.00" rx="0.00" fill="#fff" stroke="#231815" stroke-width="1.40"/>
<path d="M943.6 708.6 L979.4 708.6 L979.4 738 Q979.4 746.5 972.8 748 L950.9 748 Q943.6 746.5 943.6 738 Z" fill="#fff" stroke="#231815" stroke-width="1.50" />
<line x1="943.70" y1="719.40" x2="979.30" y2="719.40" stroke="#231815" stroke-width="1.70" />
<line x1="943.70" y1="726.70" x2="979.30" y2="726.70" stroke="#231815" stroke-width="1.70" />
<line x1="943.70" y1="736.80" x2="979.30" y2="736.80" stroke="#231815" stroke-width="1.90" />
<circle cx="953.70" cy="715.90" r="3.00" fill="#fff" stroke="#231815" stroke-width="1.30"/>
<circle cx="953.70" cy="730.50" r="3.00" fill="#fff" stroke="#231815" stroke-width="1.90"/>
<circle cx="953.7" cy="730.5" r="1.2" fill="#231815"/>
<path d="M950.9 749.5 L971.6 749.5 Q972.5 760 970.5 767 L969 771.7 L953.5 771.7 L952 767 Q950 760 950.9 749.5 Z" fill="#fff" stroke="#231815" stroke-width="1.40" />
<path d="M955 771.7 L955 756 Q955 751.5 961 751.5 Q967 751.5 967 756 L967 771.7" fill="#fff" stroke="#231815" stroke-width="1.30" />
<line x1="955.00" y1="757.10" x2="967.00" y2="757.10" stroke="#231815" stroke-width="1.20" />
<ellipse cx="950.6" cy="763.5" rx="1.6" ry="3.4" fill="#231815"/>
<ellipse cx="972.0" cy="763.5" rx="1.6" ry="3.4" fill="#231815"/>
<path d="M953 752 L954 768" fill="none" stroke="#231815" stroke-width="0.90" />
<path d="M969.5 752 L968.5 768" fill="none" stroke="#231815" stroke-width="0.90" />
<path d="M955.5 771.7 L967.3 771.7 L967.6 799.8 L955.3 799.8 Z" fill="#fff" stroke="#231815" stroke-width="1.40" />
<line x1="955.50" y1="776.60" x2="967.30" y2="776.60" stroke="#231815" stroke-width="1.10" />
<path d="M955.3 799.8 C953 806 952.8 814 953 822 C953.3 834 956 841.2 960.5 841.2 C965 841.2 968.2 834 968.3 822 C968.4 812 968.3 806 967.6 799.8 Q963 798 958 799.5" fill="#fff" stroke="#231815" stroke-width="1.40" />
<path d="M955.8 801 Q958 797.5 962 798.5 Q965 800 966.5 806" fill="none" stroke="#231815" stroke-width="1.10" />
<line x1="953.30" y1="818.00" x2="968.30" y2="818.00" stroke="#231815" stroke-width="1.00" />
<rect x="967.3" y="779.5" width="3.2" height="31" fill="#231815"/>
<ellipse cx="954" cy="784.5" rx="1.1" ry="2.5" fill="#231815"/>
<ellipse cx="971.3" cy="784.5" rx="1.1" ry="2.5" fill="#231815"/>
</svg>
</body></html>
